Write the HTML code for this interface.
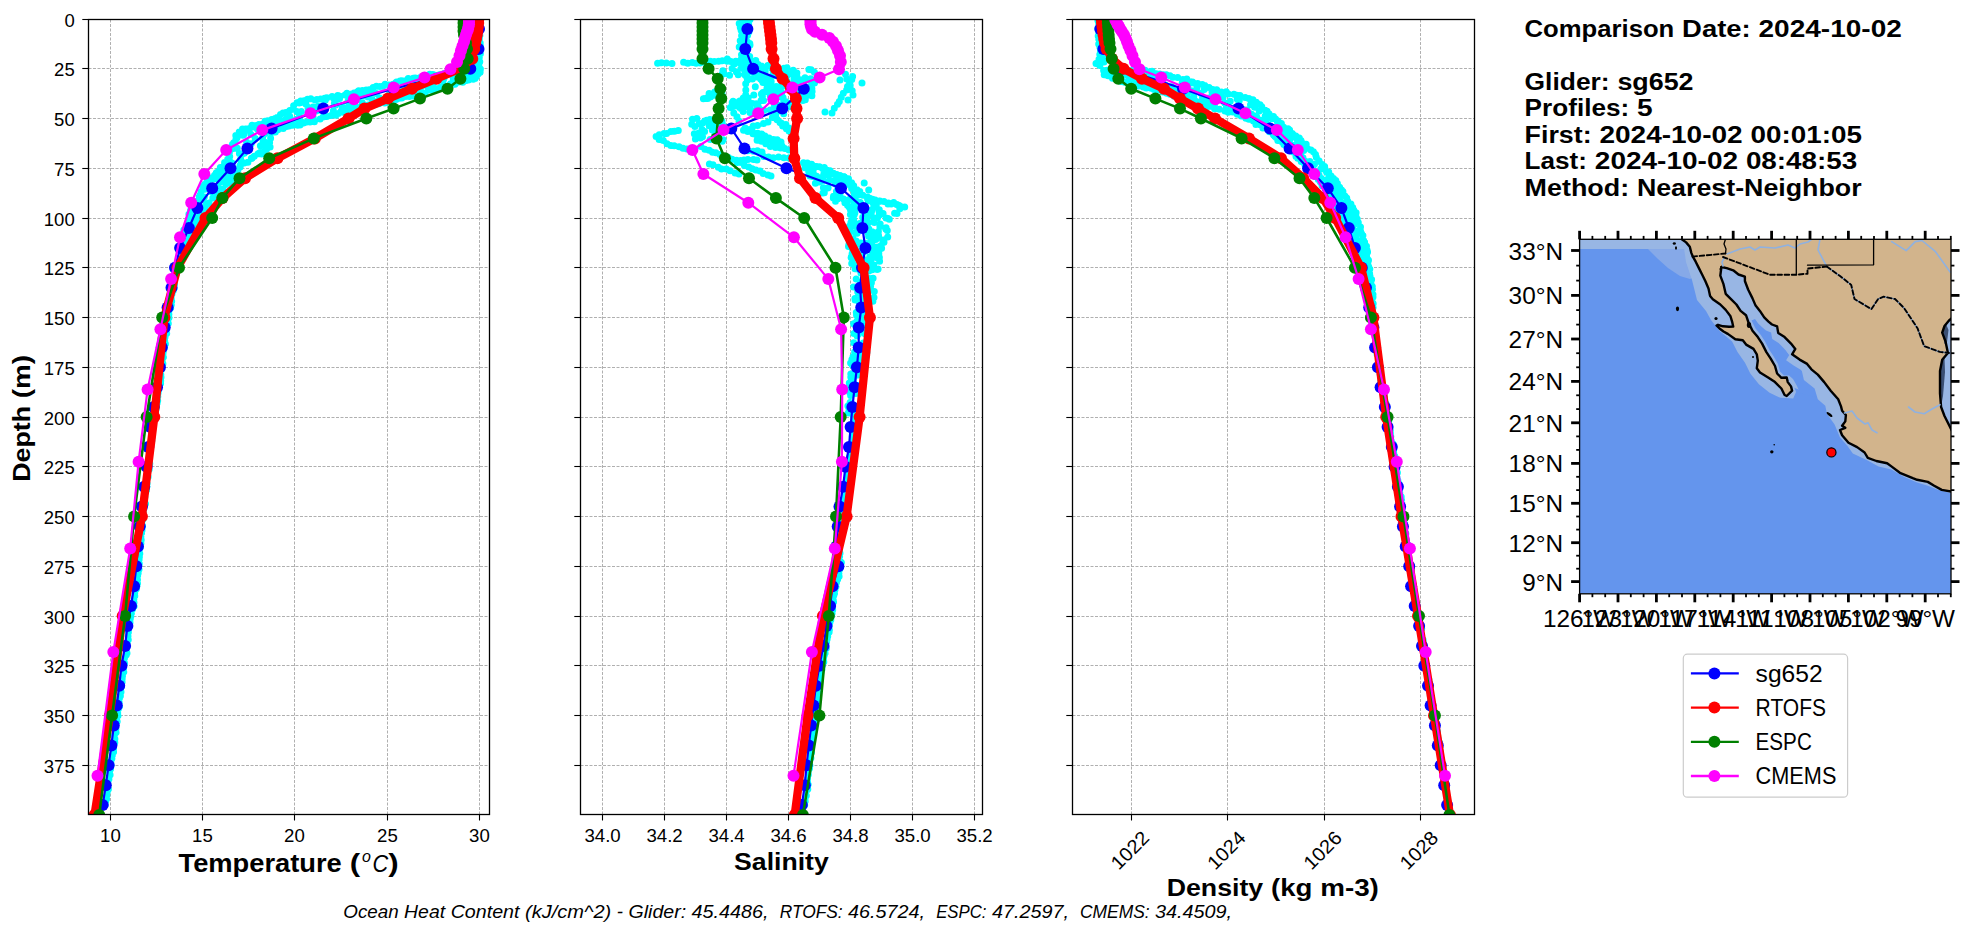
<!DOCTYPE html><html><head><meta charset="utf-8"><title>Glider comparison</title><style>html,body{margin:0;padding:0;background:#fff;overflow:hidden}svg{display:block}text{font-family:"Liberation Sans",sans-serif;fill:#000}</style></head><body>
<svg width="1978" height="934" viewBox="0 0 1978 934">
<rect width="1978" height="934" fill="#fff"/>
<defs>
<clipPath id="ax0"><rect x="88.5" y="19.5" width="401.0" height="795.0"/></clipPath>
<clipPath id="ax1"><rect x="580.5" y="19.5" width="402.0" height="795.0"/></clipPath>
<clipPath id="ax2"><rect x="1072.5" y="19.5" width="402.0" height="795.0"/></clipPath>
</defs>
<line x1="110.5" y1="19.5" x2="110.5" y2="814.5" stroke="#b0b0b0" stroke-width="1.0" stroke-dasharray="3.0,1.5"/>
<line x1="202.5" y1="19.5" x2="202.5" y2="814.5" stroke="#b0b0b0" stroke-width="1.0" stroke-dasharray="3.0,1.5"/>
<line x1="294.5" y1="19.5" x2="294.5" y2="814.5" stroke="#b0b0b0" stroke-width="1.0" stroke-dasharray="3.0,1.5"/>
<line x1="387.5" y1="19.5" x2="387.5" y2="814.5" stroke="#b0b0b0" stroke-width="1.0" stroke-dasharray="3.0,1.5"/>
<line x1="479.5" y1="19.5" x2="479.5" y2="814.5" stroke="#b0b0b0" stroke-width="1.0" stroke-dasharray="3.0,1.5"/>
<line x1="88.5" y1="68.5" x2="489.5" y2="68.5" stroke="#b0b0b0" stroke-width="1.0" stroke-dasharray="3.0,1.5"/>
<line x1="88.5" y1="118.5" x2="489.5" y2="118.5" stroke="#b0b0b0" stroke-width="1.0" stroke-dasharray="3.0,1.5"/>
<line x1="88.5" y1="168.5" x2="489.5" y2="168.5" stroke="#b0b0b0" stroke-width="1.0" stroke-dasharray="3.0,1.5"/>
<line x1="88.5" y1="218.5" x2="489.5" y2="218.5" stroke="#b0b0b0" stroke-width="1.0" stroke-dasharray="3.0,1.5"/>
<line x1="88.5" y1="267.5" x2="489.5" y2="267.5" stroke="#b0b0b0" stroke-width="1.0" stroke-dasharray="3.0,1.5"/>
<line x1="88.5" y1="317.5" x2="489.5" y2="317.5" stroke="#b0b0b0" stroke-width="1.0" stroke-dasharray="3.0,1.5"/>
<line x1="88.5" y1="367.5" x2="489.5" y2="367.5" stroke="#b0b0b0" stroke-width="1.0" stroke-dasharray="3.0,1.5"/>
<line x1="88.5" y1="417.5" x2="489.5" y2="417.5" stroke="#b0b0b0" stroke-width="1.0" stroke-dasharray="3.0,1.5"/>
<line x1="88.5" y1="466.5" x2="489.5" y2="466.5" stroke="#b0b0b0" stroke-width="1.0" stroke-dasharray="3.0,1.5"/>
<line x1="88.5" y1="516.5" x2="489.5" y2="516.5" stroke="#b0b0b0" stroke-width="1.0" stroke-dasharray="3.0,1.5"/>
<line x1="88.5" y1="566.5" x2="489.5" y2="566.5" stroke="#b0b0b0" stroke-width="1.0" stroke-dasharray="3.0,1.5"/>
<line x1="88.5" y1="616.5" x2="489.5" y2="616.5" stroke="#b0b0b0" stroke-width="1.0" stroke-dasharray="3.0,1.5"/>
<line x1="88.5" y1="665.5" x2="489.5" y2="665.5" stroke="#b0b0b0" stroke-width="1.0" stroke-dasharray="3.0,1.5"/>
<line x1="88.5" y1="715.5" x2="489.5" y2="715.5" stroke="#b0b0b0" stroke-width="1.0" stroke-dasharray="3.0,1.5"/>
<line x1="88.5" y1="765.5" x2="489.5" y2="765.5" stroke="#b0b0b0" stroke-width="1.0" stroke-dasharray="3.0,1.5"/>
<line x1="602.5" y1="19.5" x2="602.5" y2="814.5" stroke="#b0b0b0" stroke-width="1.0" stroke-dasharray="3.0,1.5"/>
<line x1="664.5" y1="19.5" x2="664.5" y2="814.5" stroke="#b0b0b0" stroke-width="1.0" stroke-dasharray="3.0,1.5"/>
<line x1="726.5" y1="19.5" x2="726.5" y2="814.5" stroke="#b0b0b0" stroke-width="1.0" stroke-dasharray="3.0,1.5"/>
<line x1="788.5" y1="19.5" x2="788.5" y2="814.5" stroke="#b0b0b0" stroke-width="1.0" stroke-dasharray="3.0,1.5"/>
<line x1="850.5" y1="19.5" x2="850.5" y2="814.5" stroke="#b0b0b0" stroke-width="1.0" stroke-dasharray="3.0,1.5"/>
<line x1="912.5" y1="19.5" x2="912.5" y2="814.5" stroke="#b0b0b0" stroke-width="1.0" stroke-dasharray="3.0,1.5"/>
<line x1="974.5" y1="19.5" x2="974.5" y2="814.5" stroke="#b0b0b0" stroke-width="1.0" stroke-dasharray="3.0,1.5"/>
<line x1="580.5" y1="68.5" x2="982.5" y2="68.5" stroke="#b0b0b0" stroke-width="1.0" stroke-dasharray="3.0,1.5"/>
<line x1="580.5" y1="118.5" x2="982.5" y2="118.5" stroke="#b0b0b0" stroke-width="1.0" stroke-dasharray="3.0,1.5"/>
<line x1="580.5" y1="168.5" x2="982.5" y2="168.5" stroke="#b0b0b0" stroke-width="1.0" stroke-dasharray="3.0,1.5"/>
<line x1="580.5" y1="218.5" x2="982.5" y2="218.5" stroke="#b0b0b0" stroke-width="1.0" stroke-dasharray="3.0,1.5"/>
<line x1="580.5" y1="267.5" x2="982.5" y2="267.5" stroke="#b0b0b0" stroke-width="1.0" stroke-dasharray="3.0,1.5"/>
<line x1="580.5" y1="317.5" x2="982.5" y2="317.5" stroke="#b0b0b0" stroke-width="1.0" stroke-dasharray="3.0,1.5"/>
<line x1="580.5" y1="367.5" x2="982.5" y2="367.5" stroke="#b0b0b0" stroke-width="1.0" stroke-dasharray="3.0,1.5"/>
<line x1="580.5" y1="417.5" x2="982.5" y2="417.5" stroke="#b0b0b0" stroke-width="1.0" stroke-dasharray="3.0,1.5"/>
<line x1="580.5" y1="466.5" x2="982.5" y2="466.5" stroke="#b0b0b0" stroke-width="1.0" stroke-dasharray="3.0,1.5"/>
<line x1="580.5" y1="516.5" x2="982.5" y2="516.5" stroke="#b0b0b0" stroke-width="1.0" stroke-dasharray="3.0,1.5"/>
<line x1="580.5" y1="566.5" x2="982.5" y2="566.5" stroke="#b0b0b0" stroke-width="1.0" stroke-dasharray="3.0,1.5"/>
<line x1="580.5" y1="616.5" x2="982.5" y2="616.5" stroke="#b0b0b0" stroke-width="1.0" stroke-dasharray="3.0,1.5"/>
<line x1="580.5" y1="665.5" x2="982.5" y2="665.5" stroke="#b0b0b0" stroke-width="1.0" stroke-dasharray="3.0,1.5"/>
<line x1="580.5" y1="715.5" x2="982.5" y2="715.5" stroke="#b0b0b0" stroke-width="1.0" stroke-dasharray="3.0,1.5"/>
<line x1="580.5" y1="765.5" x2="982.5" y2="765.5" stroke="#b0b0b0" stroke-width="1.0" stroke-dasharray="3.0,1.5"/>
<line x1="1131.5" y1="19.5" x2="1131.5" y2="814.5" stroke="#b0b0b0" stroke-width="1.0" stroke-dasharray="3.0,1.5"/>
<line x1="1227.5" y1="19.5" x2="1227.5" y2="814.5" stroke="#b0b0b0" stroke-width="1.0" stroke-dasharray="3.0,1.5"/>
<line x1="1324.5" y1="19.5" x2="1324.5" y2="814.5" stroke="#b0b0b0" stroke-width="1.0" stroke-dasharray="3.0,1.5"/>
<line x1="1420.5" y1="19.5" x2="1420.5" y2="814.5" stroke="#b0b0b0" stroke-width="1.0" stroke-dasharray="3.0,1.5"/>
<line x1="1072.5" y1="68.5" x2="1474.5" y2="68.5" stroke="#b0b0b0" stroke-width="1.0" stroke-dasharray="3.0,1.5"/>
<line x1="1072.5" y1="118.5" x2="1474.5" y2="118.5" stroke="#b0b0b0" stroke-width="1.0" stroke-dasharray="3.0,1.5"/>
<line x1="1072.5" y1="168.5" x2="1474.5" y2="168.5" stroke="#b0b0b0" stroke-width="1.0" stroke-dasharray="3.0,1.5"/>
<line x1="1072.5" y1="218.5" x2="1474.5" y2="218.5" stroke="#b0b0b0" stroke-width="1.0" stroke-dasharray="3.0,1.5"/>
<line x1="1072.5" y1="267.5" x2="1474.5" y2="267.5" stroke="#b0b0b0" stroke-width="1.0" stroke-dasharray="3.0,1.5"/>
<line x1="1072.5" y1="317.5" x2="1474.5" y2="317.5" stroke="#b0b0b0" stroke-width="1.0" stroke-dasharray="3.0,1.5"/>
<line x1="1072.5" y1="367.5" x2="1474.5" y2="367.5" stroke="#b0b0b0" stroke-width="1.0" stroke-dasharray="3.0,1.5"/>
<line x1="1072.5" y1="417.5" x2="1474.5" y2="417.5" stroke="#b0b0b0" stroke-width="1.0" stroke-dasharray="3.0,1.5"/>
<line x1="1072.5" y1="466.5" x2="1474.5" y2="466.5" stroke="#b0b0b0" stroke-width="1.0" stroke-dasharray="3.0,1.5"/>
<line x1="1072.5" y1="516.5" x2="1474.5" y2="516.5" stroke="#b0b0b0" stroke-width="1.0" stroke-dasharray="3.0,1.5"/>
<line x1="1072.5" y1="566.5" x2="1474.5" y2="566.5" stroke="#b0b0b0" stroke-width="1.0" stroke-dasharray="3.0,1.5"/>
<line x1="1072.5" y1="616.5" x2="1474.5" y2="616.5" stroke="#b0b0b0" stroke-width="1.0" stroke-dasharray="3.0,1.5"/>
<line x1="1072.5" y1="665.5" x2="1474.5" y2="665.5" stroke="#b0b0b0" stroke-width="1.0" stroke-dasharray="3.0,1.5"/>
<line x1="1072.5" y1="715.5" x2="1474.5" y2="715.5" stroke="#b0b0b0" stroke-width="1.0" stroke-dasharray="3.0,1.5"/>
<line x1="1072.5" y1="765.5" x2="1474.5" y2="765.5" stroke="#b0b0b0" stroke-width="1.0" stroke-dasharray="3.0,1.5"/>
<g clip-path="url(#ax0)">
<path d="M475.9 19.2h0M476.8 23.7h0M476.4 27.5h0M477.0 31.5h0M476.6 35.9h0M477.6 39.5h0M477.7 43.8h0M478.4 47.3h0M478.6 51.9h0M477.9 55.4h0M478.4 59.5h0M477.7 62.7h0M477.7 67.7h0M478.8 70.9h0M478.0 74.0h0" stroke="#00ffff" stroke-width="7.0" stroke-linecap="round" fill="none"/>
<path d="M478.7 20.7h0M480.2 24.2h0M479.1 26.9h0M479.6 31.9h0M479.9 35.4h0M479.4 38.8h0M480.2 43.0h0M480.4 45.8h0M480.6 49.5h0M480.4 53.8h0M479.3 57.5h0M479.8 61.7h0M478.9 64.1h0M480.4 68.9h0M479.5 72.0h0" stroke="#00ffff" stroke-width="7.0" stroke-linecap="round" fill="none"/>
<path d="M255.2 138.5h0M314.9 110.2h0M360.5 95.7h0M412.8 88.8h0M413.9 91.1h0M464.7 78.3h0M229.3 171.7h0M248.1 130.3h0M188.1 238.6h0M219.3 175.8h0M243.6 134.7h0M404.8 89.5h0M296.4 119.3h0M418.3 85.1h0M413.7 83.8h0M372.2 104.8h0M210.6 190.1h0M188.3 241.4h0M371.8 92.3h0M308.2 112.9h0M259.5 131.0h0M220.3 182.0h0M427.7 79.4h0M185.3 239.9h0M362.3 102.7h0M300.9 121.5h0M237.1 137.5h0M297.2 111.8h0M253.2 127.1h0M464.0 78.5h0M223.7 171.2h0M368.0 97.1h0M275.6 124.8h0M354.7 104.0h0M260.1 152.6h0M442.1 77.4h0M443.1 80.9h0M438.3 76.6h0M206.1 203.7h0M319.4 109.9h0M313.3 119.1h0M267.0 123.6h0M357.3 92.1h0M459.8 74.1h0M422.6 84.3h0M193.9 214.8h0M333.4 110.7h0M197.0 216.0h0M405.1 96.3h0M262.9 136.4h0M428.5 88.4h0M358.3 96.1h0M218.1 186.2h0M191.9 225.0h0M406.3 95.3h0M246.5 129.2h0M222.1 180.5h0M269.3 128.1h0M273.2 129.3h0M240.6 159.3h0M246.6 142.2h0M225.2 176.6h0M260.4 145.8h0M313.1 107.0h0M337.0 99.6h0M278.8 119.0h0M203.1 187.0h0M219.0 180.2h0M266.9 147.0h0M216.7 192.3h0M352.1 98.4h0M204.3 197.1h0M430.7 88.7h0M393.1 94.2h0M237.3 148.3h0M303.5 123.0h0M244.2 153.2h0M289.8 116.4h0M399.0 97.1h0M194.5 221.4h0M207.8 181.3h0M211.2 191.7h0M433.0 85.9h0M292.0 122.6h0M429.9 80.3h0M204.8 189.2h0M240.0 165.4h0M186.3 227.5h0M455.6 73.1h0M233.2 148.4h0M335.7 105.0h0M250.8 134.2h0M403.6 91.1h0M371.5 93.1h0M319.7 108.0h0M277.3 123.1h0M204.7 207.8h0M351.4 105.8h0M348.7 97.1h0M241.1 161.2h0M334.4 103.3h0M313.2 117.6h0M201.3 197.4h0M354.5 106.8h0M252.1 158.0h0M230.7 162.2h0M284.5 120.3h0M265.4 133.5h0M393.6 89.8h0M441.0 78.5h0M199.0 205.6h0M242.0 154.2h0M407.1 82.1h0M333.6 98.3h0M348.0 101.3h0M234.7 143.1h0M214.6 194.9h0M232.4 163.3h0M341.3 110.9h0M301.3 111.5h0M231.8 169.6h0M409.7 89.0h0M420.0 92.5h0M373.1 104.5h0M188.2 224.7h0M222.9 169.9h0M342.4 106.9h0M296.8 111.6h0M376.2 93.5h0M346.9 107.7h0M424.9 79.6h0M226.1 178.9h0M197.2 209.9h0M310.4 112.6h0M231.2 168.6h0M407.7 94.5h0M403.1 86.9h0M235.9 148.2h0M450.6 83.7h0M264.6 142.0h0M268.9 142.9h0M299.2 114.3h0M325.3 100.3h0M263.1 141.1h0M324.1 99.9h0M213.2 179.2h0M348.2 96.4h0M257.3 129.3h0M289.6 122.8h0M251.2 143.8h0M191.1 228.7h0M242.8 135.2h0M239.4 153.5h0M375.7 102.0h0M390.0 92.8h0M372.5 104.7h0M394.4 89.3h0M424.0 79.2h0M316.3 110.9h0M262.7 137.5h0M308.6 110.3h0M422.7 85.4h0M438.4 78.4h0M453.3 78.8h0M230.8 177.2h0M339.6 98.6h0M307.9 107.3h0M365.5 95.9h0M318.0 106.2h0M379.6 98.0h0M356.5 107.0h0M300.1 102.7h0M433.9 80.1h0M299.4 103.1h0M212.9 178.2h0M283.6 124.7h0M291.8 123.2h0M389.7 93.0h0M217.9 178.8h0M439.4 75.8h0M408.4 95.1h0M200.8 215.2h0M360.4 93.9h0M313.7 108.1h0M369.0 90.0h0M433.7 87.8h0M212.5 189.6h0M305.9 104.1h0M372.4 99.8h0M285.9 119.1h0M419.9 91.0h0M444.0 78.3h0M358.4 98.7h0" stroke="#00ffff" stroke-width="7.0" stroke-linecap="round" fill="none"/>
<path d="M477.0 60.5h0M477.7 62.4h0M478.7 65.2h0M477.8 70.6h0M477.8 72.7h0M476.4 76.4h0M472.5 76.6h0M469.7 74.7h0M465.9 75.6h0M461.4 74.5h0M457.8 72.9h0M454.4 73.4h0M452.0 72.7h0M448.5 74.2h0M444.1 73.5h0M441.5 74.5h0M439.4 74.8h0M435.0 75.2h0M432.6 74.6h0M429.7 74.2h0M425.0 76.5h0M422.5 77.8h0M419.7 77.7h0M415.3 77.9h0M413.2 78.2h0M408.2 78.4h0M404.5 81.1h0M401.8 80.7h0M400.0 81.1h0M396.5 82.0h0M393.1 84.3h0M388.9 85.0h0M385.1 84.3h0M382.8 86.2h0M379.8 86.4h0M376.4 86.2h0M373.1 87.4h0M369.1 89.9h0M366.2 89.9h0M362.5 90.4h0M358.7 90.7h0M354.0 93.0h0M351.5 94.0h0M346.9 93.3h0M345.0 95.0h0M340.1 96.3h0M337.7 95.6h0M333.7 96.9h0M332.1 96.6h0M326.9 97.7h0M324.6 98.2h0M320.6 99.0h0M316.9 99.4h0M315.1 100.1h0M310.8 98.7h0M307.5 99.2h0M304.0 100.7h0M300.7 101.0h0M297.1 102.8h0M293.6 105.7h0M293.2 108.9h0M289.8 110.5h0M285.9 112.4h0M283.0 112.9h0M280.5 114.5h0M277.1 117.4h0M275.1 118.6h0M271.7 119.6h0M267.8 120.7h0M265.0 121.2h0M262.2 124.2h0M258.9 124.6h0M256.2 125.5h0M252.0 125.3h0M249.5 128.4h0M245.5 129.0h0M242.5 129.0h0M239.2 131.9h0M235.8 135.4h0M236.0 139.0h0M233.7 142.8h0M232.5 144.3h0M230.6 149.6h0M229.5 152.1h0M229.7 156.4h0M227.7 159.3h0M224.6 162.4h0M223.8 165.9h0M220.3 167.6h0M218.2 171.4h0M216.3 172.8h0M214.6 175.3h0M210.3 177.9h0M207.9 179.7h0M206.6 182.6h0M204.8 184.4h0M202.8 186.4h0M201.2 191.5h0M200.3 194.7h0M199.3 196.7h0M197.6 201.0h0M196.7 202.9h0M193.2 206.5h0M191.7 207.6h0M190.5 210.6h0M188.9 214.2h0M188.8 218.6h0M188.5 221.0h0M188.1 223.5h0M186.1 228.5h0M183.8 230.1h0M183.2 233.7h0M183.0 238.2h0M183.2 241.2h0M181.0 245.0h0" stroke="#00ffff" stroke-width="7.0" stroke-linecap="round" fill="none"/>
<path d="M480.1 72.3h0M475.0 78.4h0M473.2 79.3h0M468.5 80.0h0M466.3 80.6h0M462.8 82.3h0M457.6 82.2h0M454.9 84.3h0M451.3 84.4h0M447.4 86.5h0M443.9 86.0h0M440.6 87.3h0M437.4 88.7h0M432.7 90.6h0M429.1 90.1h0M425.2 93.1h0M421.3 92.0h0M418.5 94.3h0M413.4 96.1h0M409.3 96.5h0M405.8 96.2h0M401.8 97.9h0M399.4 98.2h0M396.0 99.6h0M391.2 100.7h0M387.6 101.9h0M384.8 103.0h0M378.9 103.7h0M375.4 104.5h0M371.3 104.1h0M368.2 105.0h0M365.0 106.9h0M361.1 108.7h0M356.0 108.6h0M352.4 109.0h0M349.4 111.2h0M346.5 111.6h0M343.0 112.3h0M338.3 113.5h0M335.9 115.2h0M331.0 115.6h0M326.8 116.6h0M323.0 117.1h0M320.1 118.9h0M314.4 121.7h0M310.0 122.0h0M306.8 121.9h0M303.1 122.7h0M300.0 125.0h0M297.8 125.2h0M292.7 125.2h0M289.0 125.9h0M286.7 126.6h0M283.2 128.5h0M277.8 129.8h0M275.4 132.0h0M271.4 132.5h0M270.6 138.2h0M269.6 142.8h0M270.1 146.9h0M266.7 149.1h0M264.4 151.1h0M261.7 153.9h0M258.1 153.7h0M254.3 156.2h0M251.3 158.5h0M247.9 162.2h0M244.2 163.1h0M240.1 167.1h0M238.1 169.5h0M234.4 174.3h0M233.6 177.2h0M231.8 182.0h0M227.5 183.2h0M225.9 184.6h0M222.9 189.1h0M219.6 190.8h0M217.9 193.7h0M215.7 196.4h0M212.8 198.0h0M209.0 202.9h0M207.2 204.4h0M204.5 208.6h0M202.2 211.5h0M200.3 216.0h0M196.9 220.8h0M195.7 222.7h0M196.2 228.3h0M192.8 232.2h0M192.9 234.3h0M191.1 237.8h0M189.7 242.2h0M186.9 247.3h0M186.0 250.0h0" stroke="#00ffff" stroke-width="7.0" stroke-linecap="round" fill="none"/>
<path d="M191.3 228.2h0M189.8 231.9h0M189.0 235.3h0M187.1 238.5h0M185.5 242.0h0M184.2 244.0h0M182.7 248.2h0M181.4 251.6h0M181.2 254.9h0M180.2 257.8h0M179.3 261.1h0M178.4 264.4h0M177.1 267.5h0M177.0 270.6h0M176.4 273.7h0M175.3 277.3h0M174.4 280.3h0M174.6 284.5h0M174.2 288.3h0M173.2 291.1h0M172.1 293.9h0M171.3 298.3h0M171.8 301.3h0M171.4 304.7h0M170.8 308.1h0M169.1 310.7h0M169.0 314.3h0M169.1 317.8h0M168.0 321.1h0M168.4 323.5h0M166.6 327.2h0M166.2 331.3h0M166.8 333.6h0M165.1 337.3h0M164.8 340.9h0M165.5 344.0h0M164.4 347.6h0M163.4 351.5h0M163.1 353.7h0M163.5 357.3h0M162.3 360.3h0M163.0 363.7h0M161.7 367.7h0M161.3 370.1h0M160.9 374.7h0M161.1 377.2h0M160.8 380.7h0M160.7 383.4h0M159.2 387.2h0M158.6 390.8h0M158.2 393.1h0M157.9 396.5h0M157.8 400.8h0M157.2 403.3h0M156.3 406.6h0M156.1 409.6h0M155.7 414.5h0M155.2 417.4h0M154.3 420.3h0M153.7 423.7h0M152.8 427.1h0M152.0 429.6h0M151.9 434.4h0M152.1 437.6h0M151.9 440.7h0M151.2 443.8h0M150.0 446.2h0M149.7 450.1h0M149.5 453.0h0M149.3 457.5h0M149.3 459.7h0M149.9 463.6h0M148.8 466.4h0M149.3 469.6h0M147.6 473.3h0M148.2 477.0h0M146.8 480.0h0M147.2 483.7h0M147.0 486.6h0M146.7 490.0h0M145.3 492.8h0M144.9 496.9h0M144.4 499.5h0M145.6 503.8h0M144.4 505.9h0M143.8 509.5h0M143.3 513.2h0M143.9 515.9h0M143.1 519.3h0M142.0 523.2h0M142.7 526.1h0M142.1 530.5h0M141.7 532.9h0M141.0 536.8h0M141.3 540.0h0M141.0 543.3h0M140.4 547.2h0M139.5 549.0h0M139.9 553.7h0M139.5 557.0h0M139.2 559.7h0M139.4 563.7h0M138.8 566.2h0M139.1 569.5h0M138.3 573.0h0M137.8 575.5h0M137.6 579.8h0M137.6 583.5h0M136.9 586.3h0M136.5 589.1h0M134.8 593.1h0M134.9 596.0h0M134.0 599.0h0M134.1 602.6h0M134.2 606.2h0M132.6 609.2h0M131.5 613.2h0M130.9 616.5h0M130.4 618.8h0M130.1 622.4h0M129.3 625.9h0M128.8 628.6h0M128.5 632.3h0M128.1 636.2h0M128.4 639.8h0M127.2 642.8h0M127.0 646.7h0M126.5 648.8h0M127.1 653.2h0M126.3 655.1h0M124.5 658.4h0M124.6 663.2h0M123.4 665.5h0M123.6 669.2h0M123.9 672.1h0M122.6 676.1h0M122.3 678.8h0M122.2 681.9h0M121.5 686.5h0M120.7 688.6h0M121.1 692.0h0M120.5 696.0h0M119.5 698.5h0M119.3 702.6h0M119.5 706.4h0M118.5 708.9h0M117.8 713.0h0M118.1 715.8h0M116.8 719.4h0M117.3 721.6h0M115.7 726.1h0M116.0 729.2h0M116.2 732.6h0M114.6 735.0h0M115.0 739.0h0M114.9 742.5h0M113.6 745.6h0M113.6 749.5h0M113.7 752.1h0M112.4 755.6h0M112.0 758.6h0M111.1 761.5h0M111.2 765.2h0M110.7 769.0h0M109.6 771.6h0M110.2 775.0h0M109.0 779.2h0M108.0 781.7h0M107.8 786.0h0M108.5 789.2h0M107.3 792.0h0M106.9 795.5h0M106.7 799.1h0M105.9 801.1h0M105.2 805.1h0" stroke="#00ffff" stroke-width="6.8" stroke-linecap="round" fill="none"/>
<polyline points="479.0,29.0 478.5,48.9 470.3,68.8 393.6,88.7 323.3,108.6 271.6,128.5 247.4,148.4 230.5,168.3 212.2,188.2 197.4,208.1 188.9,228.0 180.1,247.9 175.0,267.8 171.5,287.7 167.6,307.6 164.7,327.5 161.8,347.4 159.9,367.3 157.0,387.2 153.8,407.1 150.5,427.0 148.3,446.9 146.6,466.8 144.2,486.7 141.9,506.6 139.7,526.5 137.9,546.4 136.3,566.3 134.1,586.2 131.0,606.1 127.4,626.0 125.1,645.9 121.5,665.8 119.2,685.7 116.8,705.6 113.8,725.5 111.4,745.4 108.6,765.3 105.8,785.2 102.7,805.1" fill="none" stroke="#0000ff" stroke-width="2.20" stroke-linejoin="round" stroke-linecap="round"/>
<circle cx="479.0" cy="29.0" r="6.00" fill="#0000ff"/>
<circle cx="478.5" cy="48.9" r="6.00" fill="#0000ff"/>
<circle cx="470.3" cy="68.8" r="6.00" fill="#0000ff"/>
<circle cx="393.6" cy="88.7" r="6.00" fill="#0000ff"/>
<circle cx="323.3" cy="108.6" r="6.00" fill="#0000ff"/>
<circle cx="271.6" cy="128.5" r="6.00" fill="#0000ff"/>
<circle cx="247.4" cy="148.4" r="6.00" fill="#0000ff"/>
<circle cx="230.5" cy="168.3" r="6.00" fill="#0000ff"/>
<circle cx="212.2" cy="188.2" r="6.00" fill="#0000ff"/>
<circle cx="197.4" cy="208.1" r="6.00" fill="#0000ff"/>
<circle cx="188.9" cy="228.0" r="6.00" fill="#0000ff"/>
<circle cx="180.1" cy="247.9" r="6.00" fill="#0000ff"/>
<circle cx="175.0" cy="267.8" r="6.00" fill="#0000ff"/>
<circle cx="171.5" cy="287.7" r="6.00" fill="#0000ff"/>
<circle cx="167.6" cy="307.6" r="6.00" fill="#0000ff"/>
<circle cx="164.7" cy="327.5" r="6.00" fill="#0000ff"/>
<circle cx="161.8" cy="347.4" r="6.00" fill="#0000ff"/>
<circle cx="159.9" cy="367.3" r="6.00" fill="#0000ff"/>
<circle cx="157.0" cy="387.2" r="6.00" fill="#0000ff"/>
<circle cx="153.8" cy="407.1" r="6.00" fill="#0000ff"/>
<circle cx="150.5" cy="427.0" r="6.00" fill="#0000ff"/>
<circle cx="148.3" cy="446.9" r="6.00" fill="#0000ff"/>
<circle cx="146.6" cy="466.8" r="6.00" fill="#0000ff"/>
<circle cx="144.2" cy="486.7" r="6.00" fill="#0000ff"/>
<circle cx="141.9" cy="506.6" r="6.00" fill="#0000ff"/>
<circle cx="139.7" cy="526.5" r="6.00" fill="#0000ff"/>
<circle cx="137.9" cy="546.4" r="6.00" fill="#0000ff"/>
<circle cx="136.3" cy="566.3" r="6.00" fill="#0000ff"/>
<circle cx="134.1" cy="586.2" r="6.00" fill="#0000ff"/>
<circle cx="131.0" cy="606.1" r="6.00" fill="#0000ff"/>
<circle cx="127.4" cy="626.0" r="6.00" fill="#0000ff"/>
<circle cx="125.1" cy="645.9" r="6.00" fill="#0000ff"/>
<circle cx="121.5" cy="665.8" r="6.00" fill="#0000ff"/>
<circle cx="119.2" cy="685.7" r="6.00" fill="#0000ff"/>
<circle cx="116.8" cy="705.6" r="6.00" fill="#0000ff"/>
<circle cx="113.8" cy="725.5" r="6.00" fill="#0000ff"/>
<circle cx="111.4" cy="745.4" r="6.00" fill="#0000ff"/>
<circle cx="108.6" cy="765.3" r="6.00" fill="#0000ff"/>
<circle cx="105.8" cy="785.2" r="6.00" fill="#0000ff"/>
<circle cx="102.7" cy="805.1" r="6.00" fill="#0000ff"/>
<polyline points="478.4,19.0 478.2,23.0 477.8,27.0 477.3,30.9 476.8,34.9 476.0,38.9 475.2,42.9 474.2,48.9 472.3,58.8 460.0,68.8 436.5,78.7 412.0,88.7 388.0,98.6 364.5,108.6 348.5,118.5 314.9,138.4 277.4,158.3 245.0,178.2 222.5,198.1 205.5,218.0 177.5,267.8 164.4,317.5 154.3,417.0 141.9,516.5 122.7,616.1 109.8,715.6 94.5,815.1" fill="none" stroke="#ff0000" stroke-width="8.30" stroke-linejoin="round" stroke-linecap="round"/>
<circle cx="478.4" cy="19.0" r="6.00" fill="#ff0000"/>
<circle cx="478.2" cy="23.0" r="6.00" fill="#ff0000"/>
<circle cx="477.8" cy="27.0" r="6.00" fill="#ff0000"/>
<circle cx="477.3" cy="30.9" r="6.00" fill="#ff0000"/>
<circle cx="476.8" cy="34.9" r="6.00" fill="#ff0000"/>
<circle cx="476.0" cy="38.9" r="6.00" fill="#ff0000"/>
<circle cx="475.2" cy="42.9" r="6.00" fill="#ff0000"/>
<circle cx="474.2" cy="48.9" r="6.00" fill="#ff0000"/>
<circle cx="472.3" cy="58.8" r="6.00" fill="#ff0000"/>
<circle cx="460.0" cy="68.8" r="6.00" fill="#ff0000"/>
<circle cx="436.5" cy="78.7" r="6.00" fill="#ff0000"/>
<circle cx="412.0" cy="88.7" r="6.00" fill="#ff0000"/>
<circle cx="388.0" cy="98.6" r="6.00" fill="#ff0000"/>
<circle cx="364.5" cy="108.6" r="6.00" fill="#ff0000"/>
<circle cx="348.5" cy="118.5" r="6.00" fill="#ff0000"/>
<circle cx="314.9" cy="138.4" r="6.00" fill="#ff0000"/>
<circle cx="277.4" cy="158.3" r="6.00" fill="#ff0000"/>
<circle cx="245.0" cy="178.2" r="6.00" fill="#ff0000"/>
<circle cx="222.5" cy="198.1" r="6.00" fill="#ff0000"/>
<circle cx="205.5" cy="218.0" r="6.00" fill="#ff0000"/>
<circle cx="177.5" cy="267.8" r="6.00" fill="#ff0000"/>
<circle cx="164.4" cy="317.5" r="6.00" fill="#ff0000"/>
<circle cx="154.3" cy="417.0" r="6.00" fill="#ff0000"/>
<circle cx="141.9" cy="516.5" r="6.00" fill="#ff0000"/>
<circle cx="122.7" cy="616.1" r="6.00" fill="#ff0000"/>
<circle cx="109.8" cy="715.6" r="6.00" fill="#ff0000"/>
<circle cx="94.5" cy="815.1" r="6.00" fill="#ff0000"/>
<polyline points="463.5,19.0 463.5,23.0 463.5,27.0 463.5,30.9 464.0,34.9 465.0,38.9 466.0,42.9 467.0,48.9 467.7,58.8 464.2,68.8 460.4,78.7 447.5,88.7 420.0,98.6 393.6,108.6 366.3,118.5 313.8,138.4 269.2,158.3 239.5,178.2 222.4,198.1 212.2,218.0 179.0,267.8 162.2,317.5 146.6,417.0 134.1,516.5 125.1,616.1 112.1,715.6 99.2,815.1" fill="none" stroke="#008000" stroke-width="2.60" stroke-linejoin="round" stroke-linecap="round"/>
<circle cx="463.5" cy="19.0" r="6.00" fill="#008000"/>
<circle cx="463.5" cy="23.0" r="6.00" fill="#008000"/>
<circle cx="463.5" cy="27.0" r="6.00" fill="#008000"/>
<circle cx="463.5" cy="30.9" r="6.00" fill="#008000"/>
<circle cx="464.0" cy="34.9" r="6.00" fill="#008000"/>
<circle cx="465.0" cy="38.9" r="6.00" fill="#008000"/>
<circle cx="466.0" cy="42.9" r="6.00" fill="#008000"/>
<circle cx="467.0" cy="48.9" r="6.00" fill="#008000"/>
<circle cx="467.7" cy="58.8" r="6.00" fill="#008000"/>
<circle cx="464.2" cy="68.8" r="6.00" fill="#008000"/>
<circle cx="460.4" cy="78.7" r="6.00" fill="#008000"/>
<circle cx="447.5" cy="88.7" r="6.00" fill="#008000"/>
<circle cx="420.0" cy="98.6" r="6.00" fill="#008000"/>
<circle cx="393.6" cy="108.6" r="6.00" fill="#008000"/>
<circle cx="366.3" cy="118.5" r="6.00" fill="#008000"/>
<circle cx="313.8" cy="138.4" r="6.00" fill="#008000"/>
<circle cx="269.2" cy="158.3" r="6.00" fill="#008000"/>
<circle cx="239.5" cy="178.2" r="6.00" fill="#008000"/>
<circle cx="222.4" cy="198.1" r="6.00" fill="#008000"/>
<circle cx="212.2" cy="218.0" r="6.00" fill="#008000"/>
<circle cx="179.0" cy="267.8" r="6.00" fill="#008000"/>
<circle cx="162.2" cy="317.5" r="6.00" fill="#008000"/>
<circle cx="146.6" cy="417.0" r="6.00" fill="#008000"/>
<circle cx="134.1" cy="516.5" r="6.00" fill="#008000"/>
<circle cx="125.1" cy="616.1" r="6.00" fill="#008000"/>
<circle cx="112.1" cy="715.6" r="6.00" fill="#008000"/>
<circle cx="99.2" cy="815.1" r="6.00" fill="#008000"/>
<polyline points="469.0,20.0 469.0,22.0 469.0,24.2 468.5,26.6 468.0,29.2 467.0,31.7 466.0,34.7 465.0,38.1 464.0,41.7 462.5,45.9 461.0,50.4 459.5,55.8 457.0,62.0 450.5,69.2 424.5,77.5 393.6,87.5 353.9,99.2 310.6,113.3 262.3,130.1 226.2,150.0 204.3,174.0 191.2,202.7 180.0,237.3 171.1,279.1 160.4,329.3 147.6,389.4 138.6,461.8 130.2,548.4 113.3,652.1 97.5,775.7" fill="none" stroke="#ff00ff" stroke-width="2.20" stroke-linejoin="round" stroke-linecap="round"/>
<circle cx="469.0" cy="20.0" r="6.00" fill="#ff00ff"/>
<circle cx="469.0" cy="22.0" r="6.00" fill="#ff00ff"/>
<circle cx="469.0" cy="24.2" r="6.00" fill="#ff00ff"/>
<circle cx="468.5" cy="26.6" r="6.00" fill="#ff00ff"/>
<circle cx="468.0" cy="29.2" r="6.00" fill="#ff00ff"/>
<circle cx="467.0" cy="31.7" r="6.00" fill="#ff00ff"/>
<circle cx="466.0" cy="34.7" r="6.00" fill="#ff00ff"/>
<circle cx="465.0" cy="38.1" r="6.00" fill="#ff00ff"/>
<circle cx="464.0" cy="41.7" r="6.00" fill="#ff00ff"/>
<circle cx="462.5" cy="45.9" r="6.00" fill="#ff00ff"/>
<circle cx="461.0" cy="50.4" r="6.00" fill="#ff00ff"/>
<circle cx="459.5" cy="55.8" r="6.00" fill="#ff00ff"/>
<circle cx="457.0" cy="62.0" r="6.00" fill="#ff00ff"/>
<circle cx="450.5" cy="69.2" r="6.00" fill="#ff00ff"/>
<circle cx="424.5" cy="77.5" r="6.00" fill="#ff00ff"/>
<circle cx="393.6" cy="87.5" r="6.00" fill="#ff00ff"/>
<circle cx="353.9" cy="99.2" r="6.00" fill="#ff00ff"/>
<circle cx="310.6" cy="113.3" r="6.00" fill="#ff00ff"/>
<circle cx="262.3" cy="130.1" r="6.00" fill="#ff00ff"/>
<circle cx="226.2" cy="150.0" r="6.00" fill="#ff00ff"/>
<circle cx="204.3" cy="174.0" r="6.00" fill="#ff00ff"/>
<circle cx="191.2" cy="202.7" r="6.00" fill="#ff00ff"/>
<circle cx="180.0" cy="237.3" r="6.00" fill="#ff00ff"/>
<circle cx="171.1" cy="279.1" r="6.00" fill="#ff00ff"/>
<circle cx="160.4" cy="329.3" r="6.00" fill="#ff00ff"/>
<circle cx="147.6" cy="389.4" r="6.00" fill="#ff00ff"/>
<circle cx="138.6" cy="461.8" r="6.00" fill="#ff00ff"/>
<circle cx="130.2" cy="548.4" r="6.00" fill="#ff00ff"/>
<circle cx="113.3" cy="652.1" r="6.00" fill="#ff00ff"/>
<circle cx="97.5" cy="775.7" r="6.00" fill="#ff00ff"/>
</g>
<g clip-path="url(#ax1)">
<path d="M747.6 35.3h0M745.2 48.4h0M750.0 45.1h0M746.5 57.9h0M739.2 47.0h0M740.2 40.7h0M742.1 33.2h0M749.0 31.7h0M749.8 43.5h0M749.8 43.6h0M746.3 40.6h0M750.0 19.4h0M740.3 27.5h0M749.7 56.6h0M741.1 30.2h0M744.6 27.9h0M741.5 26.2h0M748.7 24.4h0M746.2 52.5h0M741.6 35.7h0M739.2 23.6h0M744.2 43.1h0M741.5 54.8h0M745.9 57.9h0M744.9 42.0h0M747.1 44.0h0M746.0 43.0h0M742.1 47.4h0M748.0 42.6h0M743.2 33.0h0M742.3 20.6h0M745.6 53.0h0M745.5 57.2h0M745.9 20.3h0M746.3 20.0h0M743.2 57.6h0" stroke="#00ffff" stroke-width="7.0" stroke-linecap="round" fill="none"/>
<path d="M657.6 63.3h0M661.5 62.8h0M666.4 63.1h0M672.0 63.5h0" stroke="#00ffff" stroke-width="7.0" stroke-linecap="round" fill="none"/>
<path d="M683.6 62.2h0M687.8 63.3h0M692.3 62.5h0M696.2 63.2h0M700.0 63.0h0" stroke="#00ffff" stroke-width="7.0" stroke-linecap="round" fill="none"/>
<path d="M705.4 62.4h0M710.4 61.3h0M714.3 61.5h0M718.6 61.3h0M722.3 60.8h0M727.2 61.2h0M730.9 61.6h0M735.8 61.2h0M740.4 60.6h0M743.4 61.6h0M748.0 61.0h0" stroke="#00ffff" stroke-width="7.0" stroke-linecap="round" fill="none"/>
<path d="M761.1 67.5h0M805.0 77.7h0M794.1 81.0h0M773.2 75.6h0M802.2 79.8h0M797.0 77.1h0M763.0 82.6h0M738.9 104.2h0M794.0 78.4h0M808.6 79.7h0M752.3 65.4h0M758.3 64.5h0M797.6 81.6h0M811.2 87.5h0M767.7 86.5h0M806.5 88.2h0M760.6 75.8h0M769.7 93.0h0M763.9 110.3h0M753.8 94.9h0M743.6 61.5h0M776.4 105.9h0M793.2 70.2h0M744.7 104.7h0M774.5 105.8h0M770.0 83.2h0M811.1 69.8h0M783.9 68.3h0M765.0 79.4h0M739.3 101.3h0M763.6 100.4h0M746.6 65.0h0M738.2 74.7h0M774.9 64.5h0M811.5 85.6h0M746.1 60.2h0M777.8 104.9h0M803.4 94.3h0M759.4 115.4h0M738.8 106.2h0M783.0 97.5h0M767.3 81.9h0M795.9 100.3h0M763.6 73.5h0M759.0 115.6h0M749.9 108.3h0M755.8 60.6h0M740.4 105.5h0M783.1 98.1h0M773.1 72.9h0M794.0 82.9h0M786.3 73.8h0M780.8 70.8h0M760.9 76.0h0M787.8 104.6h0M784.7 69.7h0M761.3 79.4h0M741.1 101.7h0M750.9 71.9h0M793.6 72.6h0M781.7 92.6h0M808.9 69.5h0M733.1 101.2h0M756.3 103.8h0M750.4 64.2h0M739.6 62.7h0M744.6 74.2h0M796.5 98.5h0M743.3 98.0h0M757.4 113.0h0M774.4 68.4h0M791.8 102.7h0M816.5 79.6h0M799.2 86.7h0M756.4 66.6h0M762.0 80.4h0M783.7 113.7h0M733.8 105.3h0M797.4 99.0h0M797.8 92.0h0M800.6 92.5h0M814.9 79.9h0M777.7 73.6h0M750.2 105.2h0M745.6 69.4h0M751.1 70.0h0M743.7 107.8h0M803.2 81.8h0M759.8 109.2h0M748.2 98.0h0M812.1 91.4h0M745.8 90.1h0M776.3 86.4h0M741.8 60.2h0M787.0 75.3h0M751.0 61.8h0M775.9 70.3h0M758.1 77.3h0M745.7 83.7h0M770.6 77.6h0M739.7 101.1h0M740.9 68.3h0M778.0 87.1h0M727.3 59.0h0M722.4 74.3h0M750.0 112.4h0M762.9 92.4h0M739.5 107.5h0M746.7 101.4h0M764.8 77.4h0M811.9 95.7h0M729.6 75.3h0M782.6 71.2h0M761.2 66.0h0M760.6 78.9h0M803.2 97.3h0M761.1 100.4h0M741.5 63.3h0M747.4 80.1h0M786.9 81.0h0M743.1 111.5h0M786.5 68.7h0M762.4 96.3h0M751.5 63.6h0M794.6 99.7h0M803.3 96.9h0M795.5 95.4h0M759.9 73.8h0M754.3 60.9h0M756.0 109.9h0M782.5 83.2h0M775.4 68.2h0M784.3 103.8h0M775.6 115.7h0M745.7 95.1h0M771.7 68.2h0M734.2 64.0h0M778.7 90.9h0M778.1 97.0h0M742.2 59.6h0M749.1 102.4h0M765.2 71.5h0M791.3 73.7h0M774.5 91.2h0M776.9 110.7h0M767.8 65.5h0M810.6 78.8h0M780.8 74.6h0M733.3 106.5h0M814.4 72.2h0M732.1 68.6h0M747.6 106.7h0M796.9 73.0h0M722.3 73.9h0M736.4 72.1h0M763.2 110.5h0M799.4 86.3h0M767.0 87.9h0M814.5 83.0h0M763.0 68.1h0M786.1 103.6h0M758.1 106.1h0M741.5 59.0h0M785.9 101.7h0M776.4 89.7h0M775.3 108.2h0M723.9 73.7h0M771.2 81.6h0M787.0 67.8h0M780.1 87.5h0M796.4 95.3h0M787.1 75.3h0M808.9 79.5h0M780.6 78.0h0M802.9 100.6h0M776.7 112.1h0M808.7 79.9h0M747.0 77.4h0M745.3 75.3h0M732.2 102.6h0M757.4 107.9h0M806.4 95.7h0M765.6 91.5h0M796.2 92.4h0M740.9 108.6h0M770.2 95.7h0M781.4 85.7h0M783.2 86.1h0M752.5 103.4h0M752.4 78.9h0M811.7 90.9h0M753.6 72.6h0M722.9 70.8h0M741.0 101.5h0M813.1 81.0h0M728.0 60.2h0M805.3 99.8h0M770.2 77.4h0M755.3 86.8h0M811.9 88.7h0M771.2 86.6h0M770.1 109.9h0M783.7 101.0h0M789.1 106.8h0M761.4 93.9h0" stroke="#00ffff" stroke-width="7.0" stroke-linecap="round" fill="none"/>
<path d="M852.6 76.6h0M851.8 79.5h0M849.7 83.7h0M847.5 86.6h0M846.6 90.0h0M843.3 93.3h0M841.3 97.3h0M839.3 101.6h0M837.5 104.2h0M834.3 108.3h0M832.0 113.0h0" stroke="#00ffff" stroke-width="7.0" stroke-linecap="round" fill="none"/>
<path d="M845.5 74.3h0M846.8 78.9h0M849.5 81.3h0M850.2 85.6h0M852.2 90.7h0M853.0 95.0h0" stroke="#00ffff" stroke-width="7.0" stroke-linecap="round" fill="none"/>
<path d="M862.0 83.0h0" stroke="#00ffff" stroke-width="7.0" stroke-linecap="round" fill="none"/>
<path d="M825.0 112.0h0" stroke="#00ffff" stroke-width="7.0" stroke-linecap="round" fill="none"/>
<path d="M848.0 100.0h0" stroke="#00ffff" stroke-width="7.0" stroke-linecap="round" fill="none"/>
<path d="M840.0 80.0h0" stroke="#00ffff" stroke-width="7.0" stroke-linecap="round" fill="none"/>
<path d="M678.3 130.4h0M674.5 131.3h0M670.9 131.4h0M666.6 133.4h0M664.0 133.5h0M659.2 134.7h0M656.1 136.6h0M659.1 139.4h0M663.3 140.6h0M667.0 143.8h0M670.8 145.6h0M674.2 145.7h0M679.1 146.8h0M683.0 148.3h0M687.0 149.0h0" stroke="#00ffff" stroke-width="7.0" stroke-linecap="round" fill="none"/>
<path d="M706.6 120.3h0M709.9 119.4h0M702.5 136.8h0M699.0 123.7h0M696.8 118.5h0M710.8 122.6h0M716.3 119.7h0M694.3 133.7h0M712.2 125.1h0M695.4 139.1h0M712.3 129.9h0M694.9 126.4h0M712.2 121.7h0M710.1 139.6h0M704.6 131.5h0M704.8 121.0h0M709.7 120.1h0M722.2 141.2h0M723.1 139.8h0M698.9 133.1h0M716.9 128.9h0M715.1 133.8h0M692.5 119.2h0M722.5 140.6h0M715.9 131.1h0M718.7 140.8h0M717.1 135.0h0M691.7 124.3h0M702.0 129.4h0M700.5 138.0h0M725.8 127.8h0M718.9 125.8h0M718.2 124.5h0M702.6 122.9h0M709.2 125.7h0M722.0 121.3h0M722.3 123.4h0M697.8 135.2h0M714.5 121.6h0" stroke="#00ffff" stroke-width="7.0" stroke-linecap="round" fill="none"/>
<path d="M717.4 94.3h0M717.6 94.8h0M714.7 91.9h0M705.1 98.6h0M706.4 98.5h0M710.4 97.1h0M712.9 95.4h0M709.1 93.6h0M706.7 98.1h0M703.4 98.8h0M721.9 93.3h0M707.8 98.4h0" stroke="#00ffff" stroke-width="7.0" stroke-linecap="round" fill="none"/>
<path d="M700.9 146.5h0M704.9 149.3h0M709.2 150.3h0M712.5 152.2h0M715.9 152.7h0M720.0 154.4h0M723.8 156.4h0M728.4 157.6h0M732.1 159.2h0M737.2 162.4h0M741.2 162.6h0M744.4 165.4h0M748.7 166.9h0M752.2 168.8h0M755.8 169.9h0M760.0 170.9h0M763.2 173.6h0M768.0 175.0h0M771.0 176.0h0" stroke="#00ffff" stroke-width="7.0" stroke-linecap="round" fill="none"/>
<path d="M709.4 164.1h0M713.0 164.8h0M718.3 167.3h0M721.5 168.9h0M726.3 169.1h0M730.1 170.7h0M735.1 173.1h0M739.0 174.0h0" stroke="#00ffff" stroke-width="7.0" stroke-linecap="round" fill="none"/>
<path d="M745.2 127.9h0M749.6 129.4h0M752.4 131.4h0M757.7 133.3h0M761.5 134.1h0M765.0 136.0h0M769.1 138.0h0M773.3 139.4h0M777.2 139.7h0M781.0 142.0h0" stroke="#00ffff" stroke-width="7.0" stroke-linecap="round" fill="none"/>
<path d="M730.3 107.6h0M733.8 113.0h0M737.0 116.8h0M739.0 121.0h0" stroke="#00ffff" stroke-width="7.0" stroke-linecap="round" fill="none"/>
<path d="M773.6 117.1h0M777.3 119.8h0M781.5 123.2h0M785.9 124.5h0M789.0 128.0h0" stroke="#00ffff" stroke-width="7.0" stroke-linecap="round" fill="none"/>
<path d="M743.5 130.2h0M747.8 131.6h0M753.0 133.8h0M756.4 134.8h0M760.8 136.4h0M764.9 138.9h0M769.3 140.1h0M773.4 142.9h0M777.3 144.8h0M782.0 146.0h0" stroke="#00ffff" stroke-width="7.0" stroke-linecap="round" fill="none"/>
<path d="M753.2 126.0h0M757.5 125.5h0M763.5 123.5h0M768.0 122.0h0" stroke="#00ffff" stroke-width="7.0" stroke-linecap="round" fill="none"/>
<path d="M757.1 140.2h0M761.5 141.2h0M765.8 143.7h0M770.4 146.4h0M775.6 147.5h0M780.6 148.1h0M784.8 148.6h0M789.0 150.0h0" stroke="#00ffff" stroke-width="7.0" stroke-linecap="round" fill="none"/>
<path d="M772.4 117.4h0M776.8 119.3h0M780.0 122.5h0M782.7 126.0h0M786.4 128.7h0M789.0 131.0h0" stroke="#00ffff" stroke-width="7.0" stroke-linecap="round" fill="none"/>
<path d="M736.5 160.3h0M740.7 160.5h0M744.0 160.1h0M747.9 159.5h0M753.5 159.5h0M757.0 160.0h0" stroke="#00ffff" stroke-width="7.0" stroke-linecap="round" fill="none"/>
<path d="M763.8 156.5h0M768.6 157.1h0M773.3 157.8h0M778.6 157.0h0M783.9 157.8h0M789.0 158.0h0" stroke="#00ffff" stroke-width="7.0" stroke-linecap="round" fill="none"/>
<path d="M747.8 150.8h0M753.4 151.2h0M757.5 150.7h0M762.0 152.0h0" stroke="#00ffff" stroke-width="7.0" stroke-linecap="round" fill="none"/>
<path d="M876.3 206.1h0M829.6 180.1h0M854.0 198.7h0M864.3 251.5h0M885.8 229.1h0M823.0 193.1h0M828.2 171.3h0M854.9 213.1h0M850.9 222.4h0M875.7 238.3h0M856.9 244.3h0M871.2 239.6h0M868.0 246.6h0M835.5 184.1h0M868.2 222.7h0M880.2 224.1h0M850.4 214.5h0M833.3 198.1h0M853.7 219.7h0M854.5 204.9h0M844.0 176.7h0M805.4 163.8h0M823.8 174.1h0M860.3 202.6h0M875.8 239.4h0M852.8 185.9h0M849.1 184.3h0M837.4 180.3h0M893.7 202.6h0M852.9 238.8h0M868.1 233.0h0M810.0 176.1h0M862.5 210.5h0M887.7 236.9h0M855.2 225.8h0M849.8 229.4h0M855.6 255.5h0M904.7 207.1h0M868.2 249.0h0M838.1 193.2h0M871.9 210.4h0M809.1 166.0h0M839.9 194.6h0M847.5 205.2h0M837.5 179.2h0M836.0 183.6h0M849.3 232.7h0M879.9 226.5h0M859.6 223.5h0M876.9 257.3h0M879.1 211.8h0M862.7 217.2h0M809.9 175.7h0M862.2 250.4h0M811.5 165.4h0M883.1 213.4h0M866.8 219.5h0M889.3 219.2h0M878.8 253.8h0M887.3 230.5h0M864.7 229.3h0M808.7 171.8h0M871.3 215.0h0M874.3 222.4h0M810.4 166.3h0M868.2 229.4h0M836.4 191.5h0M823.4 187.8h0M828.1 187.7h0M842.5 187.0h0M819.1 182.0h0M861.4 243.5h0M845.3 179.5h0M849.2 207.1h0M849.5 226.0h0M853.0 186.3h0M870.7 231.8h0M886.1 227.8h0M898.5 205.3h0M837.5 199.1h0M870.5 210.6h0M854.1 193.5h0M817.1 177.8h0M810.5 168.8h0M872.2 231.7h0M881.3 245.4h0M854.4 195.6h0M848.3 232.3h0M812.5 176.4h0M876.1 203.6h0M844.8 201.0h0M840.0 175.4h0M824.3 167.6h0M864.7 212.3h0M872.4 199.3h0M849.7 199.2h0M865.5 228.3h0M871.6 243.6h0M878.8 237.2h0M813.1 172.7h0M894.6 213.3h0M868.9 229.0h0M854.1 202.2h0M855.6 254.5h0M855.5 232.3h0M847.8 183.8h0M879.3 214.9h0M878.7 249.6h0M872.3 209.3h0M859.2 204.6h0M843.1 184.3h0M886.0 218.0h0M873.2 203.3h0M852.1 253.7h0M815.4 183.3h0M842.4 190.0h0M828.6 174.9h0M816.7 176.2h0M815.0 166.5h0M857.1 233.3h0M884.0 242.3h0M875.3 206.7h0M857.1 202.5h0M843.3 178.3h0M861.2 250.8h0M857.2 226.8h0M849.0 243.9h0M882.8 240.8h0M827.8 188.1h0M881.6 248.2h0M878.4 231.6h0M877.6 217.4h0M861.1 243.0h0M813.3 169.4h0M835.7 178.7h0M837.6 186.5h0M883.7 240.0h0M854.9 203.0h0M824.3 192.7h0M897.0 213.4h0M844.9 202.7h0M873.9 257.2h0M860.7 207.3h0M826.6 170.2h0M811.4 164.5h0M866.0 210.9h0M808.7 170.5h0M865.7 217.8h0M844.7 184.3h0M811.9 172.7h0M888.0 203.9h0M857.7 195.2h0M851.7 219.9h0M870.0 246.3h0M834.7 198.4h0M873.7 221.1h0M876.0 233.2h0M879.3 209.8h0M833.5 196.3h0M843.6 198.9h0M878.5 235.2h0M899.8 208.7h0M855.3 199.8h0M888.1 218.5h0M851.6 188.4h0M861.4 207.0h0M873.2 251.2h0M823.3 176.0h0M854.2 214.8h0M820.9 181.0h0M871.3 212.6h0M835.5 201.3h0M878.0 247.1h0M850.5 210.1h0M833.8 173.8h0M829.9 171.2h0M846.5 184.5h0M804.9 167.7h0M879.0 201.3h0M868.3 201.0h0M809.8 175.4h0M837.1 175.2h0M868.6 236.2h0M867.6 199.0h0M871.0 234.9h0M867.1 212.0h0M860.6 229.7h0M823.2 180.5h0M855.1 210.8h0" stroke="#00ffff" stroke-width="7.0" stroke-linecap="round" fill="none"/>
<path d="M803.5 162.7h0M807.4 162.9h0M811.5 164.3h0M816.6 166.4h0M819.4 166.7h0M822.6 168.6h0M827.0 170.2h0M830.1 170.7h0M833.3 173.3h0M836.7 174.4h0M841.0 176.2h0M844.4 177.1h0M848.5 178.7h0M851.6 182.8h0M853.7 185.7h0M857.0 189.7h0M859.8 191.6h0M862.8 195.2h0M867.5 197.1h0M869.7 198.3h0M875.2 199.9h0M879.9 201.0h0M884.0 201.5h0M888.3 202.9h0M891.2 203.9h0M896.8 204.5h0M900.0 206.0h0" stroke="#00ffff" stroke-width="7.0" stroke-linecap="round" fill="none"/>
<path d="M864.2 183.1h0" stroke="#00ffff" stroke-width="7.0" stroke-linecap="round" fill="none"/>
<path d="M868.7 190.1h0" stroke="#00ffff" stroke-width="7.0" stroke-linecap="round" fill="none"/>
<path d="M864.6 344.8h0M871.3 263.5h0M870.3 262.4h0M860.3 291.6h0M852.3 248.7h0M858.1 369.9h0M871.3 256.2h0M867.9 269.4h0M866.6 311.4h0M858.2 374.9h0M854.4 357.3h0M861.3 366.8h0M852.6 259.7h0M853.8 342.8h0M850.7 394.9h0M847.9 405.9h0M858.5 256.5h0M863.2 342.9h0M851.1 257.4h0M878.1 269.0h0M863.5 332.0h0M858.8 299.4h0M868.3 331.7h0M860.9 282.6h0M867.5 307.3h0M868.1 337.3h0M861.4 292.9h0M859.4 310.2h0M873.1 278.3h0M852.4 254.3h0M848.4 388.0h0M861.4 322.1h0M856.6 359.3h0M861.8 327.4h0M865.2 333.9h0M857.4 367.9h0M863.3 296.5h0M863.8 367.9h0M870.3 320.6h0M863.3 300.2h0M854.6 352.0h0M850.8 374.1h0M871.7 300.7h0M865.6 326.9h0M852.9 410.2h0M852.9 257.5h0M868.8 244.8h0M858.5 334.1h0M854.4 250.4h0M879.6 261.3h0M855.2 247.7h0M853.0 356.7h0M856.2 389.4h0M858.5 269.3h0M869.8 256.8h0M859.1 387.2h0M851.9 359.5h0M861.0 257.0h0M874.3 291.5h0M858.1 253.6h0M859.3 391.8h0M859.2 306.7h0M850.6 395.5h0M868.3 329.4h0M868.6 326.5h0M871.0 299.6h0M852.1 373.8h0M855.9 393.6h0M873.6 264.8h0M854.8 375.8h0M850.6 363.1h0M857.0 373.1h0M856.2 241.1h0M848.2 413.0h0M848.5 246.6h0M877.2 269.5h0M866.7 290.7h0M849.3 382.9h0M857.1 336.1h0M854.8 367.0h0M867.1 335.2h0M864.3 259.7h0M879.4 257.6h0M859.3 301.6h0M855.1 299.9h0M863.7 318.6h0M863.9 277.5h0M859.6 311.6h0M851.7 263.4h0M875.8 249.6h0M854.9 298.4h0M859.5 311.4h0M862.0 314.3h0M856.3 312.4h0M862.8 352.9h0M868.9 270.9h0M850.1 402.6h0M869.3 289.4h0M858.9 310.6h0M853.1 381.4h0M853.9 376.9h0M871.4 282.8h0M859.7 268.1h0M853.2 415.6h0M866.6 347.7h0M856.7 323.8h0M852.3 361.7h0M856.3 241.5h0M853.9 333.5h0M865.4 362.7h0M864.0 366.6h0M856.9 313.1h0M870.4 315.5h0M853.5 287.1h0M874.0 297.6h0M879.0 250.4h0M861.0 350.3h0M864.3 348.0h0M849.1 409.5h0M865.1 260.4h0M876.8 251.0h0M872.1 269.7h0M855.6 265.6h0M864.9 324.7h0M869.8 287.8h0M860.4 300.3h0M856.1 363.6h0M865.1 320.6h0M869.9 248.9h0M862.6 324.2h0M857.6 364.4h0M870.6 286.2h0M858.0 292.6h0M869.9 270.3h0M871.5 317.8h0M856.2 278.9h0M858.9 364.3h0M878.4 248.1h0M860.2 283.8h0M866.9 352.5h0M866.4 291.3h0M852.2 379.7h0M868.8 249.1h0M868.4 333.1h0M862.0 251.7h0M871.3 258.2h0M858.7 385.6h0M872.9 301.3h0M854.7 249.5h0M861.5 354.5h0M850.8 377.0h0M853.6 323.8h0M852.4 365.2h0M869.6 278.6h0M856.5 314.9h0M877.9 258.1h0M865.1 247.5h0M865.6 325.1h0M870.6 249.6h0M875.0 246.9h0M857.7 292.0h0M866.5 345.4h0M870.8 281.6h0M855.0 268.7h0M849.8 392.5h0M862.9 304.3h0M852.5 360.5h0M877.6 252.0h0M848.3 389.2h0M860.9 273.0h0M864.6 251.1h0M859.3 358.2h0M859.6 300.9h0M866.9 243.4h0M857.0 321.0h0" stroke="#00ffff" stroke-width="7.0" stroke-linecap="round" fill="none"/>
<path d="M855.3 407.6h0M855.4 410.8h0M854.9 414.0h0M853.8 416.8h0M853.4 420.9h0M853.2 423.2h0M853.0 426.7h0M854.0 430.7h0M853.3 434.1h0M852.2 436.5h0M852.9 440.7h0M852.5 443.4h0M851.4 447.0h0M851.6 449.5h0M851.5 453.7h0M849.6 456.8h0M850.2 459.8h0M849.3 462.8h0M847.7 466.6h0M847.5 470.6h0M847.6 472.9h0M847.9 477.1h0M846.3 479.7h0M847.2 482.9h0M845.4 486.5h0M846.1 490.4h0M844.1 492.8h0M844.3 496.7h0M843.9 499.5h0M843.3 502.8h0M842.0 506.1h0M842.9 510.2h0M841.6 513.7h0M841.7 516.5h0M840.6 520.1h0M840.7 523.1h0M840.5 526.0h0M840.8 530.1h0M840.7 533.2h0M840.5 535.9h0M839.3 539.0h0M840.3 543.8h0M839.3 545.8h0M839.6 549.9h0M840.1 553.2h0M839.7 556.6h0M840.0 560.4h0M841.5 562.6h0M840.8 567.0h0M839.9 569.3h0M839.0 573.6h0M839.2 576.5h0M837.7 579.5h0M836.6 582.4h0M836.1 586.8h0M835.1 589.7h0M834.6 593.4h0M833.9 595.4h0M833.4 600.2h0M833.7 602.1h0M832.5 605.6h0M832.8 609.9h0M832.2 613.3h0M831.5 616.1h0M830.9 620.0h0M830.0 622.4h0M829.3 625.8h0M829.5 630.1h0M829.2 632.3h0M827.8 636.5h0M827.2 639.3h0M826.7 641.9h0M826.0 646.6h0M826.4 648.4h0M825.2 653.3h0M824.3 655.5h0M823.6 658.8h0M823.9 661.9h0M822.3 666.1h0M822.0 669.4h0M821.1 671.9h0M820.0 675.2h0M819.3 678.6h0M819.8 682.1h0M819.0 685.3h0M817.7 688.8h0M817.8 692.6h0M818.0 695.7h0M816.5 699.4h0M817.2 702.0h0M815.7 706.0h0M815.8 709.7h0M815.6 711.6h0M815.4 714.9h0M815.5 719.0h0M814.7 722.8h0M813.4 726.2h0M813.6 728.7h0M813.1 731.8h0M813.7 735.6h0M812.0 738.4h0M811.7 742.5h0M811.3 746.0h0M811.5 748.5h0M811.6 752.6h0M810.2 755.4h0M811.0 757.9h0M809.1 762.1h0M810.0 765.4h0M809.6 768.6h0M808.2 771.6h0M808.4 774.7h0M807.6 778.9h0M807.6 781.7h0M808.3 784.6h0M807.9 789.2h0M806.2 791.8h0M806.4 795.7h0M805.5 797.8h0M805.3 801.3h0M804.8 805.1h0" stroke="#00ffff" stroke-width="6.8" stroke-linecap="round" fill="none"/>
<polyline points="747.4,29.0 745.3,48.9 753.1,68.8 803.8,88.7 782.3,108.6 731.3,128.5 744.5,148.4 786.5,168.3 841.0,188.2 863.4,208.1 862.4,228.0 865.4,247.9 862.0,267.8 860.2,287.7 861.3,307.6 858.7,327.5 858.7,347.4 856.9,367.3 854.6,387.2 852.4,407.1 850.6,427.0 849.0,446.9 845.4,466.8 843.1,486.7 839.5,506.6 837.7,526.5 836.5,546.4 838.4,566.3 832.5,586.2 830.1,606.1 826.5,626.0 823.5,645.9 819.4,665.8 815.9,685.7 813.5,705.6 811.2,725.5 808.8,745.4 806.5,765.3 804.8,785.2 801.8,805.1" fill="none" stroke="#0000ff" stroke-width="2.20" stroke-linejoin="round" stroke-linecap="round"/>
<circle cx="747.4" cy="29.0" r="6.00" fill="#0000ff"/>
<circle cx="745.3" cy="48.9" r="6.00" fill="#0000ff"/>
<circle cx="753.1" cy="68.8" r="6.00" fill="#0000ff"/>
<circle cx="803.8" cy="88.7" r="6.00" fill="#0000ff"/>
<circle cx="782.3" cy="108.6" r="6.00" fill="#0000ff"/>
<circle cx="731.3" cy="128.5" r="6.00" fill="#0000ff"/>
<circle cx="744.5" cy="148.4" r="6.00" fill="#0000ff"/>
<circle cx="786.5" cy="168.3" r="6.00" fill="#0000ff"/>
<circle cx="841.0" cy="188.2" r="6.00" fill="#0000ff"/>
<circle cx="863.4" cy="208.1" r="6.00" fill="#0000ff"/>
<circle cx="862.4" cy="228.0" r="6.00" fill="#0000ff"/>
<circle cx="865.4" cy="247.9" r="6.00" fill="#0000ff"/>
<circle cx="862.0" cy="267.8" r="6.00" fill="#0000ff"/>
<circle cx="860.2" cy="287.7" r="6.00" fill="#0000ff"/>
<circle cx="861.3" cy="307.6" r="6.00" fill="#0000ff"/>
<circle cx="858.7" cy="327.5" r="6.00" fill="#0000ff"/>
<circle cx="858.7" cy="347.4" r="6.00" fill="#0000ff"/>
<circle cx="856.9" cy="367.3" r="6.00" fill="#0000ff"/>
<circle cx="854.6" cy="387.2" r="6.00" fill="#0000ff"/>
<circle cx="852.4" cy="407.1" r="6.00" fill="#0000ff"/>
<circle cx="850.6" cy="427.0" r="6.00" fill="#0000ff"/>
<circle cx="849.0" cy="446.9" r="6.00" fill="#0000ff"/>
<circle cx="845.4" cy="466.8" r="6.00" fill="#0000ff"/>
<circle cx="843.1" cy="486.7" r="6.00" fill="#0000ff"/>
<circle cx="839.5" cy="506.6" r="6.00" fill="#0000ff"/>
<circle cx="837.7" cy="526.5" r="6.00" fill="#0000ff"/>
<circle cx="836.5" cy="546.4" r="6.00" fill="#0000ff"/>
<circle cx="838.4" cy="566.3" r="6.00" fill="#0000ff"/>
<circle cx="832.5" cy="586.2" r="6.00" fill="#0000ff"/>
<circle cx="830.1" cy="606.1" r="6.00" fill="#0000ff"/>
<circle cx="826.5" cy="626.0" r="6.00" fill="#0000ff"/>
<circle cx="823.5" cy="645.9" r="6.00" fill="#0000ff"/>
<circle cx="819.4" cy="665.8" r="6.00" fill="#0000ff"/>
<circle cx="815.9" cy="685.7" r="6.00" fill="#0000ff"/>
<circle cx="813.5" cy="705.6" r="6.00" fill="#0000ff"/>
<circle cx="811.2" cy="725.5" r="6.00" fill="#0000ff"/>
<circle cx="808.8" cy="745.4" r="6.00" fill="#0000ff"/>
<circle cx="806.5" cy="765.3" r="6.00" fill="#0000ff"/>
<circle cx="804.8" cy="785.2" r="6.00" fill="#0000ff"/>
<circle cx="801.8" cy="805.1" r="6.00" fill="#0000ff"/>
<polyline points="768.6,19.0 769.0,23.0 769.5,27.0 770.0,30.9 770.5,34.9 771.0,38.9 771.3,42.9 771.6,48.9 773.5,58.8 775.9,68.8 782.6,78.7 791.0,88.7 795.9,98.6 796.5,108.6 797.1,118.5 793.6,138.4 794.3,158.3 800.0,178.2 815.5,198.1 838.2,218.0 863.6,267.8 869.9,317.5 859.6,417.0 846.6,516.5 822.9,616.1 807.6,715.6 794.7,815.1" fill="none" stroke="#ff0000" stroke-width="8.30" stroke-linejoin="round" stroke-linecap="round"/>
<circle cx="768.6" cy="19.0" r="6.00" fill="#ff0000"/>
<circle cx="769.0" cy="23.0" r="6.00" fill="#ff0000"/>
<circle cx="769.5" cy="27.0" r="6.00" fill="#ff0000"/>
<circle cx="770.0" cy="30.9" r="6.00" fill="#ff0000"/>
<circle cx="770.5" cy="34.9" r="6.00" fill="#ff0000"/>
<circle cx="771.0" cy="38.9" r="6.00" fill="#ff0000"/>
<circle cx="771.3" cy="42.9" r="6.00" fill="#ff0000"/>
<circle cx="771.6" cy="48.9" r="6.00" fill="#ff0000"/>
<circle cx="773.5" cy="58.8" r="6.00" fill="#ff0000"/>
<circle cx="775.9" cy="68.8" r="6.00" fill="#ff0000"/>
<circle cx="782.6" cy="78.7" r="6.00" fill="#ff0000"/>
<circle cx="791.0" cy="88.7" r="6.00" fill="#ff0000"/>
<circle cx="795.9" cy="98.6" r="6.00" fill="#ff0000"/>
<circle cx="796.5" cy="108.6" r="6.00" fill="#ff0000"/>
<circle cx="797.1" cy="118.5" r="6.00" fill="#ff0000"/>
<circle cx="793.6" cy="138.4" r="6.00" fill="#ff0000"/>
<circle cx="794.3" cy="158.3" r="6.00" fill="#ff0000"/>
<circle cx="800.0" cy="178.2" r="6.00" fill="#ff0000"/>
<circle cx="815.5" cy="198.1" r="6.00" fill="#ff0000"/>
<circle cx="838.2" cy="218.0" r="6.00" fill="#ff0000"/>
<circle cx="863.6" cy="267.8" r="6.00" fill="#ff0000"/>
<circle cx="869.9" cy="317.5" r="6.00" fill="#ff0000"/>
<circle cx="859.6" cy="417.0" r="6.00" fill="#ff0000"/>
<circle cx="846.6" cy="516.5" r="6.00" fill="#ff0000"/>
<circle cx="822.9" cy="616.1" r="6.00" fill="#ff0000"/>
<circle cx="807.6" cy="715.6" r="6.00" fill="#ff0000"/>
<circle cx="794.7" cy="815.1" r="6.00" fill="#ff0000"/>
<polyline points="702.5,19.0 702.5,23.0 702.5,27.0 702.5,30.9 702.5,34.9 702.5,38.9 702.5,42.9 702.5,48.9 702.5,58.8 708.6,68.8 717.7,78.7 720.3,88.7 721.3,98.6 718.6,108.6 717.9,118.5 716.4,138.4 724.9,158.3 749.0,178.2 775.9,198.1 804.2,218.0 835.5,267.8 843.8,317.5 840.7,417.0 836.0,516.5 828.8,616.1 819.4,715.6 802.9,815.1" fill="none" stroke="#008000" stroke-width="2.60" stroke-linejoin="round" stroke-linecap="round"/>
<circle cx="702.5" cy="19.0" r="6.00" fill="#008000"/>
<circle cx="702.5" cy="23.0" r="6.00" fill="#008000"/>
<circle cx="702.5" cy="27.0" r="6.00" fill="#008000"/>
<circle cx="702.5" cy="30.9" r="6.00" fill="#008000"/>
<circle cx="702.5" cy="34.9" r="6.00" fill="#008000"/>
<circle cx="702.5" cy="38.9" r="6.00" fill="#008000"/>
<circle cx="702.5" cy="42.9" r="6.00" fill="#008000"/>
<circle cx="702.5" cy="48.9" r="6.00" fill="#008000"/>
<circle cx="702.5" cy="58.8" r="6.00" fill="#008000"/>
<circle cx="708.6" cy="68.8" r="6.00" fill="#008000"/>
<circle cx="717.7" cy="78.7" r="6.00" fill="#008000"/>
<circle cx="720.3" cy="88.7" r="6.00" fill="#008000"/>
<circle cx="721.3" cy="98.6" r="6.00" fill="#008000"/>
<circle cx="718.6" cy="108.6" r="6.00" fill="#008000"/>
<circle cx="717.9" cy="118.5" r="6.00" fill="#008000"/>
<circle cx="716.4" cy="138.4" r="6.00" fill="#008000"/>
<circle cx="724.9" cy="158.3" r="6.00" fill="#008000"/>
<circle cx="749.0" cy="178.2" r="6.00" fill="#008000"/>
<circle cx="775.9" cy="198.1" r="6.00" fill="#008000"/>
<circle cx="804.2" cy="218.0" r="6.00" fill="#008000"/>
<circle cx="835.5" cy="267.8" r="6.00" fill="#008000"/>
<circle cx="843.8" cy="317.5" r="6.00" fill="#008000"/>
<circle cx="840.7" cy="417.0" r="6.00" fill="#008000"/>
<circle cx="836.0" cy="516.5" r="6.00" fill="#008000"/>
<circle cx="828.8" cy="616.1" r="6.00" fill="#008000"/>
<circle cx="819.4" cy="715.6" r="6.00" fill="#008000"/>
<circle cx="802.9" cy="815.1" r="6.00" fill="#008000"/>
<polyline points="810.5,20.0 810.5,22.0 810.5,24.2 811.0,26.6 812.0,29.2 815.0,31.7 822.0,34.7 829.3,38.1 833.0,41.7 836.0,45.9 838.0,50.4 840.0,55.8 840.8,62.0 839.0,69.2 819.6,77.5 792.3,87.5 773.3,99.2 758.2,113.3 723.5,130.1 692.4,150.0 703.4,174.0 748.3,202.7 793.9,237.3 828.3,279.1 841.1,329.3 842.2,389.4 841.9,461.8 834.8,548.4 811.9,652.1 793.5,775.7" fill="none" stroke="#ff00ff" stroke-width="2.20" stroke-linejoin="round" stroke-linecap="round"/>
<circle cx="810.5" cy="20.0" r="6.00" fill="#ff00ff"/>
<circle cx="810.5" cy="22.0" r="6.00" fill="#ff00ff"/>
<circle cx="810.5" cy="24.2" r="6.00" fill="#ff00ff"/>
<circle cx="811.0" cy="26.6" r="6.00" fill="#ff00ff"/>
<circle cx="812.0" cy="29.2" r="6.00" fill="#ff00ff"/>
<circle cx="815.0" cy="31.7" r="6.00" fill="#ff00ff"/>
<circle cx="822.0" cy="34.7" r="6.00" fill="#ff00ff"/>
<circle cx="829.3" cy="38.1" r="6.00" fill="#ff00ff"/>
<circle cx="833.0" cy="41.7" r="6.00" fill="#ff00ff"/>
<circle cx="836.0" cy="45.9" r="6.00" fill="#ff00ff"/>
<circle cx="838.0" cy="50.4" r="6.00" fill="#ff00ff"/>
<circle cx="840.0" cy="55.8" r="6.00" fill="#ff00ff"/>
<circle cx="840.8" cy="62.0" r="6.00" fill="#ff00ff"/>
<circle cx="839.0" cy="69.2" r="6.00" fill="#ff00ff"/>
<circle cx="819.6" cy="77.5" r="6.00" fill="#ff00ff"/>
<circle cx="792.3" cy="87.5" r="6.00" fill="#ff00ff"/>
<circle cx="773.3" cy="99.2" r="6.00" fill="#ff00ff"/>
<circle cx="758.2" cy="113.3" r="6.00" fill="#ff00ff"/>
<circle cx="723.5" cy="130.1" r="6.00" fill="#ff00ff"/>
<circle cx="692.4" cy="150.0" r="6.00" fill="#ff00ff"/>
<circle cx="703.4" cy="174.0" r="6.00" fill="#ff00ff"/>
<circle cx="748.3" cy="202.7" r="6.00" fill="#ff00ff"/>
<circle cx="793.9" cy="237.3" r="6.00" fill="#ff00ff"/>
<circle cx="828.3" cy="279.1" r="6.00" fill="#ff00ff"/>
<circle cx="841.1" cy="329.3" r="6.00" fill="#ff00ff"/>
<circle cx="842.2" cy="389.4" r="6.00" fill="#ff00ff"/>
<circle cx="841.9" cy="461.8" r="6.00" fill="#ff00ff"/>
<circle cx="834.8" cy="548.4" r="6.00" fill="#ff00ff"/>
<circle cx="811.9" cy="652.1" r="6.00" fill="#ff00ff"/>
<circle cx="793.5" cy="775.7" r="6.00" fill="#ff00ff"/>
</g>
<g clip-path="url(#ax2)">
<path d="M1097.9 20.4h0M1098.7 23.7h0M1097.9 28.5h0M1098.7 32.3h0M1098.2 35.9h0M1098.8 39.3h0M1098.7 43.9h0M1099.9 47.2h0M1100.4 51.3h0M1099.8 54.4h0M1099.0 59.2h0M1098.0 63.0h0" stroke="#00ffff" stroke-width="7.0" stroke-linecap="round" fill="none"/>
<path d="M1101.2 19.7h0M1100.6 24.3h0M1102.1 26.9h0M1101.6 30.9h0M1101.2 33.9h0M1101.0 38.0h0M1101.3 41.5h0M1101.9 44.5h0M1102.8 49.9h0M1103.2 53.8h0M1104.1 57.4h0M1104.0 62.0h0" stroke="#00ffff" stroke-width="7.0" stroke-linecap="round" fill="none"/>
<path d="M1101.2 62.1h0M1098.6 64.2h0M1099.9 65.4h0M1096.0 63.4h0" stroke="#00ffff" stroke-width="7.0" stroke-linecap="round" fill="none"/>
<path d="M1196.9 87.8h0M1279.2 129.9h0M1359.4 232.3h0M1204.6 89.1h0M1341.3 195.3h0M1268.1 117.1h0M1176.1 90.8h0M1254.6 107.2h0M1353.6 233.8h0M1185.1 96.1h0M1344.0 217.9h0M1110.4 71.6h0M1217.1 92.9h0M1205.0 104.6h0M1134.8 77.7h0M1224.7 103.0h0M1175.6 93.7h0M1271.4 130.4h0M1354.4 232.2h0M1152.5 77.3h0M1358.8 255.8h0M1347.9 213.6h0M1238.9 101.8h0M1288.4 135.3h0M1313.4 165.2h0M1296.9 143.7h0M1204.2 89.4h0M1369.6 293.8h0M1192.7 91.7h0M1121.5 73.1h0M1143.5 76.0h0M1269.4 130.4h0M1181.3 94.6h0M1299.6 153.5h0M1304.9 164.5h0M1135.6 71.8h0M1347.4 201.0h0M1223.0 97.5h0M1314.5 164.2h0M1213.2 94.2h0M1331.8 182.2h0M1349.5 230.8h0M1133.5 70.6h0M1274.8 129.9h0M1164.9 84.7h0M1216.7 95.3h0M1119.2 74.5h0M1302.6 158.1h0M1364.5 247.6h0M1310.3 169.2h0M1208.8 98.1h0M1350.4 207.1h0M1347.0 210.6h0M1192.5 82.0h0M1123.6 70.9h0M1202.5 98.0h0M1236.3 107.0h0M1368.6 268.4h0M1208.8 102.0h0M1134.8 72.1h0M1212.7 99.8h0M1268.2 128.2h0M1148.9 84.3h0M1192.2 101.0h0M1351.2 209.6h0M1366.0 281.0h0M1212.4 100.4h0M1334.2 182.8h0M1129.5 78.0h0M1322.0 184.3h0M1290.9 138.1h0M1310.9 164.0h0M1287.8 138.3h0M1272.0 118.7h0M1363.5 253.1h0M1239.3 100.6h0M1259.2 110.9h0M1147.4 78.6h0M1350.2 221.9h0M1290.7 144.3h0M1183.4 94.9h0M1145.3 82.5h0M1308.6 162.7h0M1317.8 175.7h0M1297.3 153.3h0M1182.2 83.1h0M1290.2 148.4h0M1129.0 78.2h0M1290.3 145.8h0M1216.3 94.9h0M1360.6 241.0h0M1208.5 101.0h0M1214.4 105.6h0M1268.1 115.3h0M1171.7 86.7h0M1286.2 137.5h0M1183.2 83.5h0M1303.3 149.8h0M1360.6 231.7h0M1328.7 177.7h0M1365.1 274.1h0M1301.4 145.9h0M1283.6 135.5h0M1226.4 107.4h0M1339.3 206.3h0M1285.4 132.4h0M1229.9 109.1h0M1129.1 72.0h0M1312.4 171.4h0M1237.2 99.0h0M1150.6 87.9h0M1247.0 110.7h0M1309.5 164.8h0M1352.3 212.2h0M1251.0 100.1h0M1130.6 82.6h0M1277.3 121.6h0M1320.8 168.9h0M1193.8 96.5h0M1345.9 208.5h0M1212.0 91.9h0M1364.6 242.6h0M1153.3 85.2h0M1354.5 224.1h0M1248.9 119.3h0M1303.2 150.1h0M1297.3 139.2h0M1246.2 109.9h0M1363.2 273.4h0M1163.7 84.3h0M1179.7 91.6h0M1196.4 101.4h0M1213.9 102.8h0M1312.9 171.5h0M1131.2 72.0h0M1230.2 101.3h0M1323.3 180.3h0M1200.8 93.3h0M1143.8 70.7h0M1337.2 195.0h0M1193.3 100.1h0M1351.6 218.3h0M1363.4 249.3h0M1351.5 212.8h0M1187.3 85.2h0M1355.0 214.6h0M1303.7 150.6h0M1132.4 73.7h0M1366.9 257.9h0M1183.5 85.3h0M1236.6 95.3h0M1329.0 179.3h0M1337.3 189.1h0M1250.5 104.7h0M1347.7 225.0h0M1137.3 74.4h0M1309.9 161.4h0M1360.7 248.1h0M1365.5 269.4h0M1188.6 84.1h0M1278.4 132.4h0M1151.8 87.2h0M1187.2 93.6h0M1364.1 280.1h0M1151.4 86.8h0M1331.9 185.9h0M1231.0 109.4h0M1123.2 75.3h0M1274.8 136.2h0M1126.8 75.1h0M1277.3 125.8h0M1228.3 105.7h0M1191.3 90.7h0M1337.0 200.4h0M1326.6 172.3h0M1132.2 81.9h0M1148.0 81.4h0M1171.7 91.2h0M1147.7 81.8h0M1114.0 77.5h0M1330.8 182.4h0M1348.2 206.7h0M1334.2 188.9h0M1158.6 83.0h0M1350.9 215.2h0M1137.7 83.0h0M1132.0 76.2h0M1187.5 98.1h0M1265.2 116.0h0M1319.1 161.0h0M1130.8 78.1h0M1149.1 75.7h0M1372.0 295.9h0M1239.9 112.0h0M1126.3 72.3h0M1265.1 118.5h0M1367.8 287.5h0" stroke="#00ffff" stroke-width="7.0" stroke-linecap="round" fill="none"/>
<path d="M1103.6 70.4h0M1107.1 70.2h0M1111.9 71.0h0M1113.9 70.0h0M1119.0 70.0h0M1121.0 70.2h0M1124.6 69.2h0M1128.0 70.3h0M1132.7 69.9h0M1135.0 70.5h0M1139.9 70.2h0M1142.0 70.0h0M1145.1 70.2h0M1149.9 71.8h0M1152.1 71.3h0M1156.3 73.7h0M1159.6 73.9h0M1163.1 74.7h0M1166.3 74.7h0M1170.0 75.8h0M1172.9 77.3h0M1177.7 77.5h0M1182.9 79.5h0M1186.8 79.0h0M1190.0 81.7h0M1193.3 82.9h0M1197.7 83.5h0M1202.3 84.6h0M1204.8 85.5h0M1209.1 87.6h0M1212.8 89.6h0M1216.7 89.8h0M1221.4 91.9h0M1226.2 91.8h0M1228.3 94.1h0M1233.9 94.2h0M1237.9 95.7h0M1240.0 95.4h0M1245.2 97.6h0M1248.9 98.5h0M1253.0 99.7h0M1256.3 102.3h0M1260.1 104.8h0M1261.8 106.8h0M1265.2 110.3h0M1267.1 111.2h0M1269.0 113.9h0M1273.5 116.5h0M1275.6 118.9h0M1278.0 121.0h0M1281.4 123.5h0M1283.7 127.3h0M1288.1 128.8h0M1289.6 130.1h0M1292.3 133.6h0M1295.8 135.9h0M1299.3 138.0h0M1301.0 140.4h0M1302.8 143.4h0M1306.2 144.2h0M1307.3 148.2h0M1311.0 150.0h0M1313.4 151.7h0M1315.5 154.4h0M1316.3 157.2h0M1318.7 161.0h0M1322.2 164.6h0M1324.6 166.4h0M1325.4 169.8h0M1328.7 172.1h0M1331.1 176.1h0M1333.5 178.4h0M1335.8 180.6h0M1337.4 183.5h0M1339.6 187.3h0M1341.6 190.1h0M1342.9 191.6h0M1344.9 196.0h0M1346.7 198.1h0M1347.5 201.2h0M1350.9 203.9h0M1352.7 207.5h0M1353.7 210.0h0M1356.1 212.7h0M1355.9 216.2h0M1357.2 219.1h0M1358.3 222.5h0M1360.5 227.0h0M1360.1 229.8h0M1361.6 233.8h0M1362.9 235.4h0M1363.6 240.4h0M1364.2 242.0h0M1366.5 246.3h0M1367.1 250.3h0M1367.6 251.9h0M1366.5 255.3h0M1368.5 260.3h0M1368.0 262.1h0M1368.6 266.6h0M1369.8 269.1h0M1369.6 273.4h0M1370.0 276.1h0M1371.6 279.6h0M1371.1 283.9h0M1372.3 286.4h0M1372.5 289.3h0M1373.0 294.5h0M1373.0 297.0h0" stroke="#00ffff" stroke-width="7.0" stroke-linecap="round" fill="none"/>
<path d="M1104.2 74.8h0M1108.1 75.8h0M1112.5 78.3h0M1116.4 79.3h0M1121.2 81.6h0M1124.7 82.3h0M1130.9 82.4h0M1134.6 84.2h0M1138.6 85.9h0M1143.3 86.9h0M1146.2 87.9h0M1151.2 88.0h0M1154.1 89.5h0M1157.6 89.9h0M1162.9 92.1h0M1166.8 93.2h0M1169.9 94.2h0M1174.1 96.3h0M1177.7 97.2h0M1181.2 97.5h0M1186.1 99.0h0M1190.4 100.2h0M1192.4 102.0h0M1196.3 102.1h0M1201.1 104.3h0M1205.4 104.0h0M1207.9 106.5h0M1211.1 106.2h0M1214.6 108.8h0M1219.4 109.3h0M1225.0 110.9h0M1228.2 112.2h0M1232.6 111.9h0M1237.3 114.3h0M1241.2 116.0h0M1245.9 118.2h0M1250.7 119.1h0M1253.4 121.0h0M1255.9 124.6h0M1260.7 125.0h0M1262.9 128.1h0M1267.7 129.4h0M1269.4 131.7h0M1273.4 134.9h0M1276.3 137.6h0M1277.8 140.5h0M1282.4 142.3h0M1283.9 144.4h0M1288.1 147.7h0M1289.0 149.8h0M1293.2 152.1h0M1296.0 156.5h0M1297.8 158.2h0M1301.2 161.6h0M1305.0 163.8h0M1307.7 166.6h0M1310.9 170.7h0M1312.0 174.1h0M1315.3 176.5h0M1318.3 179.5h0M1320.2 181.7h0M1322.1 185.8h0M1326.0 188.2h0M1327.3 191.2h0M1329.9 195.4h0M1331.6 198.5h0M1334.0 202.2h0M1335.3 205.3h0M1337.0 210.0h0M1338.7 213.0h0M1340.7 216.9h0M1343.3 221.0h0M1344.8 225.3h0M1347.5 229.5h0M1348.3 231.2h0M1349.6 235.5h0M1351.1 239.3h0M1351.9 242.9h0M1354.4 247.1h0M1356.3 249.3h0M1356.8 253.2h0M1357.4 257.5h0M1359.0 261.9h0M1359.0 265.3h0M1359.2 270.6h0M1360.4 274.7h0M1362.2 277.7h0M1361.7 282.2h0M1362.7 285.4h0M1364.0 290.0h0" stroke="#00ffff" stroke-width="7.0" stroke-linecap="round" fill="none"/>
<path d="M1242.5 109.1h0M1244.6 110.5h0M1248.8 112.7h0M1251.6 114.2h0M1253.9 115.7h0M1256.8 117.0h0M1259.6 119.8h0M1262.7 120.6h0M1266.1 122.3h0M1268.0 124.8h0M1270.7 127.1h0M1274.1 128.5h0M1277.0 130.6h0M1278.6 133.2h0M1281.5 135.7h0M1284.1 138.6h0M1286.2 141.3h0M1289.1 143.1h0M1291.3 145.2h0M1293.8 148.2h0M1295.6 150.1h0M1298.9 154.0h0M1301.3 156.1h0M1303.1 157.8h0M1305.2 161.2h0M1308.2 163.2h0M1309.1 165.1h0M1311.4 168.3h0M1313.9 171.4h0M1317.5 173.5h0M1319.2 175.2h0M1321.4 178.5h0M1325.0 180.8h0M1326.8 183.8h0M1329.3 186.4h0M1331.3 187.4h0M1334.0 190.9h0M1335.7 194.3h0M1337.6 196.5h0M1339.4 199.8h0M1340.9 201.9h0M1343.4 206.0h0M1346.1 207.6h0M1346.5 211.0h0M1348.6 214.1h0M1348.9 217.4h0M1350.5 220.9h0M1350.9 224.8h0M1352.8 227.4h0M1354.5 230.5h0M1355.0 234.7h0M1356.4 237.2h0M1356.9 240.6h0M1358.1 244.4h0M1358.3 248.7h0M1359.3 251.0h0M1360.8 254.3h0M1362.7 257.1h0M1362.7 260.4h0M1364.3 264.9h0M1366.1 267.6h0M1365.7 270.4h0M1367.6 274.5h0M1367.3 277.9h0M1369.1 281.7h0M1369.7 284.2h0M1369.3 288.2h0M1370.8 291.6h0M1371.2 293.9h0M1371.4 297.9h0M1372.1 301.2h0M1373.3 303.7h0M1373.2 307.6h0" stroke="#00ffff" stroke-width="6.8" stroke-linecap="round" fill="none"/>
<path d="M1370.0 307.6h0M1371.6 311.5h0M1372.4 314.9h0M1373.0 318.1h0M1374.0 320.4h0M1373.9 323.5h0M1374.1 327.9h0M1375.7 330.8h0M1375.4 334.0h0M1375.5 337.3h0M1375.8 341.5h0M1376.7 343.5h0M1377.0 347.2h0M1377.3 350.5h0M1377.0 354.3h0M1378.5 357.4h0M1378.4 361.2h0M1379.1 363.8h0M1380.0 366.9h0M1379.8 370.3h0M1380.0 374.0h0M1380.7 377.3h0M1380.7 381.0h0M1382.1 384.5h0M1382.3 387.8h0M1382.6 390.9h0M1384.2 393.3h0M1384.6 397.3h0M1384.7 400.1h0M1386.0 403.5h0M1387.0 407.5h0M1386.4 411.0h0M1386.9 414.0h0M1387.1 416.6h0M1389.0 420.3h0M1389.0 424.4h0M1388.4 427.5h0M1390.4 430.6h0M1390.5 433.3h0M1390.9 436.6h0M1391.4 441.0h0M1393.3 444.1h0M1393.3 446.7h0M1393.8 449.8h0M1393.8 452.9h0M1395.0 456.4h0M1395.2 459.4h0M1396.1 464.2h0M1395.5 466.9h0M1396.6 470.2h0M1397.5 472.7h0M1397.1 477.4h0M1398.0 480.6h0M1398.8 483.4h0M1398.8 487.3h0M1399.7 490.4h0M1399.9 492.9h0M1401.3 497.0h0M1401.6 499.8h0M1400.8 503.2h0M1401.9 506.8h0M1402.1 510.1h0M1402.0 513.4h0M1402.9 515.9h0M1403.5 519.5h0M1404.3 523.1h0M1403.7 526.6h0M1404.5 530.6h0M1406.0 533.7h0M1405.1 535.8h0M1406.3 539.9h0M1406.4 543.2h0M1406.9 547.0h0M1407.0 549.7h0M1407.9 553.3h0M1408.3 556.9h0M1409.0 560.4h0M1409.7 562.9h0M1411.3 565.7h0M1411.6 569.5h0M1411.3 572.7h0M1411.1 576.1h0M1411.9 579.2h0M1412.2 583.2h0M1412.9 586.7h0M1413.5 589.2h0M1414.6 592.9h0M1414.4 596.4h0M1414.8 600.2h0M1415.5 602.5h0M1416.0 606.7h0M1416.3 609.2h0M1417.6 613.2h0M1417.8 615.4h0M1419.0 620.0h0M1419.4 623.2h0M1421.2 625.7h0M1421.8 628.7h0M1420.9 633.4h0M1421.3 636.6h0M1423.2 639.9h0M1422.8 642.1h0M1423.6 645.2h0M1424.5 649.1h0M1424.4 652.9h0M1424.4 655.7h0M1424.8 658.5h0M1425.8 663.3h0M1426.0 666.6h0M1426.2 668.4h0M1426.7 672.3h0M1427.5 676.4h0M1429.0 679.7h0M1429.5 683.2h0M1430.1 685.7h0M1429.2 688.5h0M1430.1 693.0h0M1430.2 695.8h0M1430.7 699.2h0M1431.3 702.2h0M1432.3 706.0h0M1432.2 709.7h0M1432.7 711.6h0M1434.5 715.3h0M1435.4 718.9h0M1435.6 722.9h0M1435.8 725.3h0M1436.6 728.8h0M1437.6 731.6h0M1437.8 735.9h0M1438.1 738.5h0M1439.5 742.3h0M1438.9 744.9h0M1439.4 749.5h0M1440.5 751.6h0M1440.4 754.8h0M1441.1 758.3h0M1441.2 762.0h0M1441.9 766.0h0M1442.9 769.1h0M1443.7 771.7h0M1443.4 776.1h0M1445.3 779.3h0M1445.1 781.3h0M1446.3 784.7h0M1445.7 788.3h0M1446.0 792.1h0M1446.8 795.4h0M1447.7 799.3h0M1447.6 801.3h0M1448.6 805.1h0" stroke="#00ffff" stroke-width="6.8" stroke-linecap="round" fill="none"/>
<polyline points="1100.3,29.0 1103.4,48.9 1122.0,68.8 1183.0,88.7 1238.5,108.6 1269.9,128.5 1289.6,148.4 1308.1,168.3 1327.8,188.2 1341.4,208.1 1348.8,228.0 1354.9,247.9 1361.8,267.8 1366.0,287.7 1369.2,307.6 1373.4,327.5 1375.1,347.4 1377.9,367.3 1380.6,387.2 1384.8,407.1 1387.6,427.0 1391.8,446.9 1394.6,466.8 1397.9,486.7 1400.1,506.6 1402.9,526.5 1405.7,546.4 1409.2,566.3 1411.1,586.2 1414.7,606.1 1419.1,626.0 1422.0,645.9 1424.3,665.8 1428.0,685.7 1430.6,705.6 1434.9,725.5 1437.8,745.4 1440.7,765.3 1444.2,785.2 1447.1,805.1" fill="none" stroke="#0000ff" stroke-width="2.20" stroke-linejoin="round" stroke-linecap="round"/>
<circle cx="1100.3" cy="29.0" r="6.00" fill="#0000ff"/>
<circle cx="1103.4" cy="48.9" r="6.00" fill="#0000ff"/>
<circle cx="1122.0" cy="68.8" r="6.00" fill="#0000ff"/>
<circle cx="1183.0" cy="88.7" r="6.00" fill="#0000ff"/>
<circle cx="1238.5" cy="108.6" r="6.00" fill="#0000ff"/>
<circle cx="1269.9" cy="128.5" r="6.00" fill="#0000ff"/>
<circle cx="1289.6" cy="148.4" r="6.00" fill="#0000ff"/>
<circle cx="1308.1" cy="168.3" r="6.00" fill="#0000ff"/>
<circle cx="1327.8" cy="188.2" r="6.00" fill="#0000ff"/>
<circle cx="1341.4" cy="208.1" r="6.00" fill="#0000ff"/>
<circle cx="1348.8" cy="228.0" r="6.00" fill="#0000ff"/>
<circle cx="1354.9" cy="247.9" r="6.00" fill="#0000ff"/>
<circle cx="1361.8" cy="267.8" r="6.00" fill="#0000ff"/>
<circle cx="1366.0" cy="287.7" r="6.00" fill="#0000ff"/>
<circle cx="1369.2" cy="307.6" r="6.00" fill="#0000ff"/>
<circle cx="1373.4" cy="327.5" r="6.00" fill="#0000ff"/>
<circle cx="1375.1" cy="347.4" r="6.00" fill="#0000ff"/>
<circle cx="1377.9" cy="367.3" r="6.00" fill="#0000ff"/>
<circle cx="1380.6" cy="387.2" r="6.00" fill="#0000ff"/>
<circle cx="1384.8" cy="407.1" r="6.00" fill="#0000ff"/>
<circle cx="1387.6" cy="427.0" r="6.00" fill="#0000ff"/>
<circle cx="1391.8" cy="446.9" r="6.00" fill="#0000ff"/>
<circle cx="1394.6" cy="466.8" r="6.00" fill="#0000ff"/>
<circle cx="1397.9" cy="486.7" r="6.00" fill="#0000ff"/>
<circle cx="1400.1" cy="506.6" r="6.00" fill="#0000ff"/>
<circle cx="1402.9" cy="526.5" r="6.00" fill="#0000ff"/>
<circle cx="1405.7" cy="546.4" r="6.00" fill="#0000ff"/>
<circle cx="1409.2" cy="566.3" r="6.00" fill="#0000ff"/>
<circle cx="1411.1" cy="586.2" r="6.00" fill="#0000ff"/>
<circle cx="1414.7" cy="606.1" r="6.00" fill="#0000ff"/>
<circle cx="1419.1" cy="626.0" r="6.00" fill="#0000ff"/>
<circle cx="1422.0" cy="645.9" r="6.00" fill="#0000ff"/>
<circle cx="1424.3" cy="665.8" r="6.00" fill="#0000ff"/>
<circle cx="1428.0" cy="685.7" r="6.00" fill="#0000ff"/>
<circle cx="1430.6" cy="705.6" r="6.00" fill="#0000ff"/>
<circle cx="1434.9" cy="725.5" r="6.00" fill="#0000ff"/>
<circle cx="1437.8" cy="745.4" r="6.00" fill="#0000ff"/>
<circle cx="1440.7" cy="765.3" r="6.00" fill="#0000ff"/>
<circle cx="1444.2" cy="785.2" r="6.00" fill="#0000ff"/>
<circle cx="1447.1" cy="805.1" r="6.00" fill="#0000ff"/>
<polyline points="1101.5,19.0 1102.0,23.0 1102.5,27.0 1103.0,30.9 1103.5,34.9 1104.2,38.9 1105.0,42.9 1106.5,48.9 1112.0,58.8 1123.5,68.8 1142.0,78.7 1164.0,88.7 1180.0,98.6 1198.0,108.6 1215.0,118.5 1249.0,138.4 1281.0,158.3 1303.2,178.2 1322.9,198.1 1335.2,218.0 1361.1,267.8 1373.4,317.5 1386.2,417.0 1401.5,516.5 1418.0,616.1 1434.0,715.6 1450.0,815.1" fill="none" stroke="#ff0000" stroke-width="8.30" stroke-linejoin="round" stroke-linecap="round"/>
<circle cx="1101.5" cy="19.0" r="6.00" fill="#ff0000"/>
<circle cx="1102.0" cy="23.0" r="6.00" fill="#ff0000"/>
<circle cx="1102.5" cy="27.0" r="6.00" fill="#ff0000"/>
<circle cx="1103.0" cy="30.9" r="6.00" fill="#ff0000"/>
<circle cx="1103.5" cy="34.9" r="6.00" fill="#ff0000"/>
<circle cx="1104.2" cy="38.9" r="6.00" fill="#ff0000"/>
<circle cx="1105.0" cy="42.9" r="6.00" fill="#ff0000"/>
<circle cx="1106.5" cy="48.9" r="6.00" fill="#ff0000"/>
<circle cx="1112.0" cy="58.8" r="6.00" fill="#ff0000"/>
<circle cx="1123.5" cy="68.8" r="6.00" fill="#ff0000"/>
<circle cx="1142.0" cy="78.7" r="6.00" fill="#ff0000"/>
<circle cx="1164.0" cy="88.7" r="6.00" fill="#ff0000"/>
<circle cx="1180.0" cy="98.6" r="6.00" fill="#ff0000"/>
<circle cx="1198.0" cy="108.6" r="6.00" fill="#ff0000"/>
<circle cx="1215.0" cy="118.5" r="6.00" fill="#ff0000"/>
<circle cx="1249.0" cy="138.4" r="6.00" fill="#ff0000"/>
<circle cx="1281.0" cy="158.3" r="6.00" fill="#ff0000"/>
<circle cx="1303.2" cy="178.2" r="6.00" fill="#ff0000"/>
<circle cx="1322.9" cy="198.1" r="6.00" fill="#ff0000"/>
<circle cx="1335.2" cy="218.0" r="6.00" fill="#ff0000"/>
<circle cx="1361.1" cy="267.8" r="6.00" fill="#ff0000"/>
<circle cx="1373.4" cy="317.5" r="6.00" fill="#ff0000"/>
<circle cx="1386.2" cy="417.0" r="6.00" fill="#ff0000"/>
<circle cx="1401.5" cy="516.5" r="6.00" fill="#ff0000"/>
<circle cx="1418.0" cy="616.1" r="6.00" fill="#ff0000"/>
<circle cx="1434.0" cy="715.6" r="6.00" fill="#ff0000"/>
<circle cx="1450.0" cy="815.1" r="6.00" fill="#ff0000"/>
<polyline points="1107.5,19.0 1107.8,23.0 1108.1,27.0 1108.4,30.9 1108.7,34.9 1109.0,38.9 1109.5,42.9 1110.5,48.9 1111.8,58.8 1113.6,68.8 1118.3,78.7 1131.2,88.7 1155.4,98.6 1180.0,108.6 1200.9,118.5 1241.6,138.4 1274.4,158.3 1299.5,178.2 1314.3,198.1 1326.6,218.0 1354.9,267.8 1370.9,317.5 1387.6,417.0 1403.5,516.5 1419.0,616.1 1434.9,715.6 1449.4,815.1" fill="none" stroke="#008000" stroke-width="2.60" stroke-linejoin="round" stroke-linecap="round"/>
<circle cx="1107.5" cy="19.0" r="6.00" fill="#008000"/>
<circle cx="1107.8" cy="23.0" r="6.00" fill="#008000"/>
<circle cx="1108.1" cy="27.0" r="6.00" fill="#008000"/>
<circle cx="1108.4" cy="30.9" r="6.00" fill="#008000"/>
<circle cx="1108.7" cy="34.9" r="6.00" fill="#008000"/>
<circle cx="1109.0" cy="38.9" r="6.00" fill="#008000"/>
<circle cx="1109.5" cy="42.9" r="6.00" fill="#008000"/>
<circle cx="1110.5" cy="48.9" r="6.00" fill="#008000"/>
<circle cx="1111.8" cy="58.8" r="6.00" fill="#008000"/>
<circle cx="1113.6" cy="68.8" r="6.00" fill="#008000"/>
<circle cx="1118.3" cy="78.7" r="6.00" fill="#008000"/>
<circle cx="1131.2" cy="88.7" r="6.00" fill="#008000"/>
<circle cx="1155.4" cy="98.6" r="6.00" fill="#008000"/>
<circle cx="1180.0" cy="108.6" r="6.00" fill="#008000"/>
<circle cx="1200.9" cy="118.5" r="6.00" fill="#008000"/>
<circle cx="1241.6" cy="138.4" r="6.00" fill="#008000"/>
<circle cx="1274.4" cy="158.3" r="6.00" fill="#008000"/>
<circle cx="1299.5" cy="178.2" r="6.00" fill="#008000"/>
<circle cx="1314.3" cy="198.1" r="6.00" fill="#008000"/>
<circle cx="1326.6" cy="218.0" r="6.00" fill="#008000"/>
<circle cx="1354.9" cy="267.8" r="6.00" fill="#008000"/>
<circle cx="1370.9" cy="317.5" r="6.00" fill="#008000"/>
<circle cx="1387.6" cy="417.0" r="6.00" fill="#008000"/>
<circle cx="1403.5" cy="516.5" r="6.00" fill="#008000"/>
<circle cx="1419.0" cy="616.1" r="6.00" fill="#008000"/>
<circle cx="1434.9" cy="715.6" r="6.00" fill="#008000"/>
<circle cx="1449.4" cy="815.1" r="6.00" fill="#008000"/>
<polyline points="1115.3,20.0 1116.5,22.0 1117.5,24.2 1119.0,26.6 1120.5,29.2 1122.0,31.7 1124.0,34.7 1125.5,38.1 1127.0,41.7 1128.5,45.9 1130.5,50.4 1132.5,55.8 1135.0,62.0 1139.5,69.2 1161.3,77.5 1184.8,87.5 1215.5,99.2 1245.4,113.3 1276.8,130.1 1297.8,150.0 1314.3,174.0 1330.3,202.7 1345.6,237.3 1358.6,279.1 1370.9,329.3 1384.0,389.4 1396.8,461.8 1409.9,548.4 1425.7,652.1 1445.0,775.7" fill="none" stroke="#ff00ff" stroke-width="2.20" stroke-linejoin="round" stroke-linecap="round"/>
<circle cx="1115.3" cy="20.0" r="6.00" fill="#ff00ff"/>
<circle cx="1116.5" cy="22.0" r="6.00" fill="#ff00ff"/>
<circle cx="1117.5" cy="24.2" r="6.00" fill="#ff00ff"/>
<circle cx="1119.0" cy="26.6" r="6.00" fill="#ff00ff"/>
<circle cx="1120.5" cy="29.2" r="6.00" fill="#ff00ff"/>
<circle cx="1122.0" cy="31.7" r="6.00" fill="#ff00ff"/>
<circle cx="1124.0" cy="34.7" r="6.00" fill="#ff00ff"/>
<circle cx="1125.5" cy="38.1" r="6.00" fill="#ff00ff"/>
<circle cx="1127.0" cy="41.7" r="6.00" fill="#ff00ff"/>
<circle cx="1128.5" cy="45.9" r="6.00" fill="#ff00ff"/>
<circle cx="1130.5" cy="50.4" r="6.00" fill="#ff00ff"/>
<circle cx="1132.5" cy="55.8" r="6.00" fill="#ff00ff"/>
<circle cx="1135.0" cy="62.0" r="6.00" fill="#ff00ff"/>
<circle cx="1139.5" cy="69.2" r="6.00" fill="#ff00ff"/>
<circle cx="1161.3" cy="77.5" r="6.00" fill="#ff00ff"/>
<circle cx="1184.8" cy="87.5" r="6.00" fill="#ff00ff"/>
<circle cx="1215.5" cy="99.2" r="6.00" fill="#ff00ff"/>
<circle cx="1245.4" cy="113.3" r="6.00" fill="#ff00ff"/>
<circle cx="1276.8" cy="130.1" r="6.00" fill="#ff00ff"/>
<circle cx="1297.8" cy="150.0" r="6.00" fill="#ff00ff"/>
<circle cx="1314.3" cy="174.0" r="6.00" fill="#ff00ff"/>
<circle cx="1330.3" cy="202.7" r="6.00" fill="#ff00ff"/>
<circle cx="1345.6" cy="237.3" r="6.00" fill="#ff00ff"/>
<circle cx="1358.6" cy="279.1" r="6.00" fill="#ff00ff"/>
<circle cx="1370.9" cy="329.3" r="6.00" fill="#ff00ff"/>
<circle cx="1384.0" cy="389.4" r="6.00" fill="#ff00ff"/>
<circle cx="1396.8" cy="461.8" r="6.00" fill="#ff00ff"/>
<circle cx="1409.9" cy="548.4" r="6.00" fill="#ff00ff"/>
<circle cx="1425.7" cy="652.1" r="6.00" fill="#ff00ff"/>
<circle cx="1445.0" cy="775.7" r="6.00" fill="#ff00ff"/>
</g>
<rect x="88.5" y="19.5" width="401.0" height="795.0" fill="none" stroke="#000" stroke-width="1.3"/>
<line x1="110.5" y1="814.5" x2="110.5" y2="820.5" stroke="#000" stroke-width="1.1"/>
<text x="100.1" y="842.3" font-size="17.93" textLength="20.7" lengthAdjust="spacingAndGlyphs">10</text>
<line x1="202.5" y1="814.5" x2="202.5" y2="820.5" stroke="#000" stroke-width="1.1"/>
<text x="192.1" y="842.3" font-size="17.93" textLength="20.7" lengthAdjust="spacingAndGlyphs">15</text>
<line x1="294.5" y1="814.5" x2="294.5" y2="820.5" stroke="#000" stroke-width="1.1"/>
<text x="284.1" y="842.3" font-size="17.93" textLength="20.7" lengthAdjust="spacingAndGlyphs">20</text>
<line x1="387.5" y1="814.5" x2="387.5" y2="820.5" stroke="#000" stroke-width="1.1"/>
<text x="377.1" y="842.3" font-size="17.93" textLength="20.7" lengthAdjust="spacingAndGlyphs">25</text>
<line x1="479.5" y1="814.5" x2="479.5" y2="820.5" stroke="#000" stroke-width="1.1"/>
<text x="469.1" y="842.3" font-size="17.93" textLength="20.7" lengthAdjust="spacingAndGlyphs">30</text>
<line x1="82.3" y1="19.5" x2="88.5" y2="19.5" stroke="#000" stroke-width="1.1"/>
<text x="64.4" y="27.3" font-size="17.82" textLength="10.3" lengthAdjust="spacingAndGlyphs">0</text>
<line x1="82.3" y1="68.5" x2="88.5" y2="68.5" stroke="#000" stroke-width="1.1"/>
<text x="54.1" y="76.3" font-size="17.82" textLength="20.6" lengthAdjust="spacingAndGlyphs">25</text>
<line x1="82.3" y1="118.5" x2="88.5" y2="118.5" stroke="#000" stroke-width="1.1"/>
<text x="54.1" y="126.3" font-size="17.82" textLength="20.6" lengthAdjust="spacingAndGlyphs">50</text>
<line x1="82.3" y1="168.5" x2="88.5" y2="168.5" stroke="#000" stroke-width="1.1"/>
<text x="54.1" y="176.3" font-size="17.82" textLength="20.6" lengthAdjust="spacingAndGlyphs">75</text>
<line x1="82.3" y1="218.5" x2="88.5" y2="218.5" stroke="#000" stroke-width="1.1"/>
<text x="43.8" y="226.3" font-size="17.82" textLength="30.9" lengthAdjust="spacingAndGlyphs">100</text>
<line x1="82.3" y1="267.5" x2="88.5" y2="267.5" stroke="#000" stroke-width="1.1"/>
<text x="43.8" y="275.3" font-size="17.82" textLength="30.9" lengthAdjust="spacingAndGlyphs">125</text>
<line x1="82.3" y1="317.5" x2="88.5" y2="317.5" stroke="#000" stroke-width="1.1"/>
<text x="43.8" y="325.3" font-size="17.82" textLength="30.9" lengthAdjust="spacingAndGlyphs">150</text>
<line x1="82.3" y1="367.5" x2="88.5" y2="367.5" stroke="#000" stroke-width="1.1"/>
<text x="43.8" y="375.3" font-size="17.82" textLength="30.9" lengthAdjust="spacingAndGlyphs">175</text>
<line x1="82.3" y1="417.5" x2="88.5" y2="417.5" stroke="#000" stroke-width="1.1"/>
<text x="43.8" y="425.3" font-size="17.82" textLength="30.9" lengthAdjust="spacingAndGlyphs">200</text>
<line x1="82.3" y1="466.5" x2="88.5" y2="466.5" stroke="#000" stroke-width="1.1"/>
<text x="43.8" y="474.3" font-size="17.82" textLength="30.9" lengthAdjust="spacingAndGlyphs">225</text>
<line x1="82.3" y1="516.5" x2="88.5" y2="516.5" stroke="#000" stroke-width="1.1"/>
<text x="43.8" y="524.3" font-size="17.82" textLength="30.9" lengthAdjust="spacingAndGlyphs">250</text>
<line x1="82.3" y1="566.5" x2="88.5" y2="566.5" stroke="#000" stroke-width="1.1"/>
<text x="43.8" y="574.3" font-size="17.82" textLength="30.9" lengthAdjust="spacingAndGlyphs">275</text>
<line x1="82.3" y1="616.5" x2="88.5" y2="616.5" stroke="#000" stroke-width="1.1"/>
<text x="43.8" y="624.3" font-size="17.82" textLength="30.9" lengthAdjust="spacingAndGlyphs">300</text>
<line x1="82.3" y1="665.5" x2="88.5" y2="665.5" stroke="#000" stroke-width="1.1"/>
<text x="43.8" y="673.3" font-size="17.82" textLength="30.9" lengthAdjust="spacingAndGlyphs">325</text>
<line x1="82.3" y1="715.5" x2="88.5" y2="715.5" stroke="#000" stroke-width="1.1"/>
<text x="43.8" y="723.3" font-size="17.82" textLength="30.9" lengthAdjust="spacingAndGlyphs">350</text>
<line x1="82.3" y1="765.5" x2="88.5" y2="765.5" stroke="#000" stroke-width="1.1"/>
<text x="43.8" y="773.3" font-size="17.82" textLength="30.9" lengthAdjust="spacingAndGlyphs">375</text>
<rect x="580.5" y="19.5" width="402.0" height="795.0" fill="none" stroke="#000" stroke-width="1.3"/>
<line x1="602.5" y1="814.5" x2="602.5" y2="820.5" stroke="#000" stroke-width="1.1"/>
<text x="584.4" y="842.3" font-size="17.93" textLength="36.3" lengthAdjust="spacingAndGlyphs">34.0</text>
<line x1="664.5" y1="814.5" x2="664.5" y2="820.5" stroke="#000" stroke-width="1.1"/>
<text x="646.4" y="842.3" font-size="17.93" textLength="36.3" lengthAdjust="spacingAndGlyphs">34.2</text>
<line x1="726.5" y1="814.5" x2="726.5" y2="820.5" stroke="#000" stroke-width="1.1"/>
<text x="708.4" y="842.3" font-size="17.93" textLength="36.3" lengthAdjust="spacingAndGlyphs">34.4</text>
<line x1="788.5" y1="814.5" x2="788.5" y2="820.5" stroke="#000" stroke-width="1.1"/>
<text x="770.4" y="842.3" font-size="17.93" textLength="36.3" lengthAdjust="spacingAndGlyphs">34.6</text>
<line x1="850.5" y1="814.5" x2="850.5" y2="820.5" stroke="#000" stroke-width="1.1"/>
<text x="832.4" y="842.3" font-size="17.93" textLength="36.3" lengthAdjust="spacingAndGlyphs">34.8</text>
<line x1="912.5" y1="814.5" x2="912.5" y2="820.5" stroke="#000" stroke-width="1.1"/>
<text x="894.4" y="842.3" font-size="17.93" textLength="36.3" lengthAdjust="spacingAndGlyphs">35.0</text>
<line x1="974.5" y1="814.5" x2="974.5" y2="820.5" stroke="#000" stroke-width="1.1"/>
<text x="956.4" y="842.3" font-size="17.93" textLength="36.3" lengthAdjust="spacingAndGlyphs">35.2</text>
<line x1="574.3" y1="19.5" x2="580.5" y2="19.5" stroke="#000" stroke-width="1.1"/>
<line x1="574.3" y1="68.5" x2="580.5" y2="68.5" stroke="#000" stroke-width="1.1"/>
<line x1="574.3" y1="118.5" x2="580.5" y2="118.5" stroke="#000" stroke-width="1.1"/>
<line x1="574.3" y1="168.5" x2="580.5" y2="168.5" stroke="#000" stroke-width="1.1"/>
<line x1="574.3" y1="218.5" x2="580.5" y2="218.5" stroke="#000" stroke-width="1.1"/>
<line x1="574.3" y1="267.5" x2="580.5" y2="267.5" stroke="#000" stroke-width="1.1"/>
<line x1="574.3" y1="317.5" x2="580.5" y2="317.5" stroke="#000" stroke-width="1.1"/>
<line x1="574.3" y1="367.5" x2="580.5" y2="367.5" stroke="#000" stroke-width="1.1"/>
<line x1="574.3" y1="417.5" x2="580.5" y2="417.5" stroke="#000" stroke-width="1.1"/>
<line x1="574.3" y1="466.5" x2="580.5" y2="466.5" stroke="#000" stroke-width="1.1"/>
<line x1="574.3" y1="516.5" x2="580.5" y2="516.5" stroke="#000" stroke-width="1.1"/>
<line x1="574.3" y1="566.5" x2="580.5" y2="566.5" stroke="#000" stroke-width="1.1"/>
<line x1="574.3" y1="616.5" x2="580.5" y2="616.5" stroke="#000" stroke-width="1.1"/>
<line x1="574.3" y1="665.5" x2="580.5" y2="665.5" stroke="#000" stroke-width="1.1"/>
<line x1="574.3" y1="715.5" x2="580.5" y2="715.5" stroke="#000" stroke-width="1.1"/>
<line x1="574.3" y1="765.5" x2="580.5" y2="765.5" stroke="#000" stroke-width="1.1"/>
<rect x="1072.5" y="19.5" width="402.0" height="795.0" fill="none" stroke="#000" stroke-width="1.3"/>
<line x1="1131.5" y1="814.5" x2="1131.5" y2="820.5" stroke="#000" stroke-width="1.1"/>
<g transform="translate(1130.2,850.5) rotate(-45)">
<text x="-22.4" y="6.3" font-size="19.36" textLength="44.8" lengthAdjust="spacingAndGlyphs">1022</text>
</g>
<line x1="1227.5" y1="814.5" x2="1227.5" y2="820.5" stroke="#000" stroke-width="1.1"/>
<g transform="translate(1226.5,850.5) rotate(-45)">
<text x="-22.4" y="6.3" font-size="19.36" textLength="44.8" lengthAdjust="spacingAndGlyphs">1024</text>
</g>
<line x1="1324.5" y1="814.5" x2="1324.5" y2="820.5" stroke="#000" stroke-width="1.1"/>
<g transform="translate(1322.9,850.5) rotate(-45)">
<text x="-22.4" y="6.3" font-size="19.36" textLength="44.8" lengthAdjust="spacingAndGlyphs">1026</text>
</g>
<line x1="1420.5" y1="814.5" x2="1420.5" y2="820.5" stroke="#000" stroke-width="1.1"/>
<g transform="translate(1419.2,850.5) rotate(-45)">
<text x="-22.4" y="6.3" font-size="19.36" textLength="44.8" lengthAdjust="spacingAndGlyphs">1028</text>
</g>
<line x1="1066.3" y1="19.5" x2="1072.5" y2="19.5" stroke="#000" stroke-width="1.1"/>
<line x1="1066.3" y1="68.5" x2="1072.5" y2="68.5" stroke="#000" stroke-width="1.1"/>
<line x1="1066.3" y1="118.5" x2="1072.5" y2="118.5" stroke="#000" stroke-width="1.1"/>
<line x1="1066.3" y1="168.5" x2="1072.5" y2="168.5" stroke="#000" stroke-width="1.1"/>
<line x1="1066.3" y1="218.5" x2="1072.5" y2="218.5" stroke="#000" stroke-width="1.1"/>
<line x1="1066.3" y1="267.5" x2="1072.5" y2="267.5" stroke="#000" stroke-width="1.1"/>
<line x1="1066.3" y1="317.5" x2="1072.5" y2="317.5" stroke="#000" stroke-width="1.1"/>
<line x1="1066.3" y1="367.5" x2="1072.5" y2="367.5" stroke="#000" stroke-width="1.1"/>
<line x1="1066.3" y1="417.5" x2="1072.5" y2="417.5" stroke="#000" stroke-width="1.1"/>
<line x1="1066.3" y1="466.5" x2="1072.5" y2="466.5" stroke="#000" stroke-width="1.1"/>
<line x1="1066.3" y1="516.5" x2="1072.5" y2="516.5" stroke="#000" stroke-width="1.1"/>
<line x1="1066.3" y1="566.5" x2="1072.5" y2="566.5" stroke="#000" stroke-width="1.1"/>
<line x1="1066.3" y1="616.5" x2="1072.5" y2="616.5" stroke="#000" stroke-width="1.1"/>
<line x1="1066.3" y1="665.5" x2="1072.5" y2="665.5" stroke="#000" stroke-width="1.1"/>
<line x1="1066.3" y1="715.5" x2="1072.5" y2="715.5" stroke="#000" stroke-width="1.1"/>
<line x1="1066.3" y1="765.5" x2="1072.5" y2="765.5" stroke="#000" stroke-width="1.1"/>
<g transform="translate(30.3,418.3) rotate(-90)">
<text x="-63.5" y="0.0" font-size="24.42" font-weight="bold" textLength="75.8" lengthAdjust="spacingAndGlyphs">Depth</text>
<text x="20.0" y="0.0" font-size="24.42" font-weight="bold" textLength="43.4" lengthAdjust="spacingAndGlyphs">(m)</text>
</g>
<text x="178.5" y="871.7" font-size="24.97" font-weight="bold" textLength="163.3" lengthAdjust="spacingAndGlyphs">Temperature</text>
<text x="349.7" y="871.7" font-size="24.97" font-weight="bold" textLength="10.4" lengthAdjust="spacingAndGlyphs">(</text>
<text x="362.0" y="862.0" font-size="16.06" font-style="italic" textLength="8.9" lengthAdjust="spacingAndGlyphs">o</text>
<text x="372.5" y="871.7" font-size="24.75" font-style="italic" textLength="15.7" lengthAdjust="spacingAndGlyphs">C</text>
<text x="388.3" y="871.7" font-size="24.97" font-weight="bold" textLength="10.4" lengthAdjust="spacingAndGlyphs">)</text>
<text x="734.1" y="870.2" font-size="24.42" font-weight="bold" textLength="94.7" lengthAdjust="spacingAndGlyphs">Salinity</text>
<text x="1166.7" y="895.6" font-size="24.75" font-weight="bold" textLength="96.5" lengthAdjust="spacingAndGlyphs">Density</text>
<text x="1271.0" y="895.6" font-size="24.75" font-weight="bold" textLength="41.4" lengthAdjust="spacingAndGlyphs">(kg</text>
<text x="1320.2" y="895.6" font-size="24.75" font-weight="bold" textLength="58.7" lengthAdjust="spacingAndGlyphs">m-3)</text>
<text x="1524.6" y="36.9" font-size="24.64" font-weight="bold" textLength="149.7" lengthAdjust="spacingAndGlyphs">Comparison</text>
<text x="1682.1" y="36.9" font-size="24.64" font-weight="bold" textLength="68.6" lengthAdjust="spacingAndGlyphs">Date:</text>
<text x="1758.5" y="36.9" font-size="24.64" font-weight="bold" textLength="143.3" lengthAdjust="spacingAndGlyphs">2024-10-02</text>
<text x="1524.6" y="89.9" font-size="24.64" font-weight="bold" textLength="85.0" lengthAdjust="spacingAndGlyphs">Glider:</text>
<text x="1617.4" y="89.9" font-size="24.64" font-weight="bold" textLength="76.1" lengthAdjust="spacingAndGlyphs">sg652</text>
<text x="1524.6" y="116.3" font-size="24.64" font-weight="bold" textLength="104.6" lengthAdjust="spacingAndGlyphs">Profiles:</text>
<text x="1637.0" y="116.3" font-size="24.64" font-weight="bold" textLength="15.6" lengthAdjust="spacingAndGlyphs">5</text>
<text x="1524.6" y="142.8" font-size="24.64" font-weight="bold" textLength="67.0" lengthAdjust="spacingAndGlyphs">First:</text>
<text x="1599.4" y="142.8" font-size="24.64" font-weight="bold" textLength="143.3" lengthAdjust="spacingAndGlyphs">2024-10-02</text>
<text x="1750.5" y="142.8" font-size="24.64" font-weight="bold" textLength="111.4" lengthAdjust="spacingAndGlyphs">00:01:05</text>
<text x="1524.6" y="169.4" font-size="24.64" font-weight="bold" textLength="62.4" lengthAdjust="spacingAndGlyphs">Last:</text>
<text x="1594.8" y="169.4" font-size="24.64" font-weight="bold" textLength="143.3" lengthAdjust="spacingAndGlyphs">2024-10-02</text>
<text x="1745.9" y="169.4" font-size="24.64" font-weight="bold" textLength="111.4" lengthAdjust="spacingAndGlyphs">08:48:53</text>
<text x="1524.6" y="196.1" font-size="24.64" font-weight="bold" textLength="104.5" lengthAdjust="spacingAndGlyphs">Method:</text>
<text x="1636.9" y="196.1" font-size="24.64" font-weight="bold" textLength="224.7" lengthAdjust="spacingAndGlyphs">Nearest-Neighbor</text>
<defs><clipPath id="mapclip"><rect x="1579.6" y="239.3" width="371.4" height="354.5"/></clipPath></defs>
<g clip-path="url(#mapclip)">
<rect x="1579.6" y="239.3" width="371.4" height="354.5" fill="#6495ed"/>
<rect x="1579.6" y="239.3" width="112.4" height="9.7" fill="#98b6e4"/>
<polygon points="1648.0,249.0 1690.0,249.0 1692.0,262.0 1696.0,276.0 1690.0,279.0 1680.0,276.0 1668.0,268.0 1658.0,259.0" fill="#86a9e8"/>
<polygon points="1684.0,248.0 1686.0,262.0 1692.0,280.0 1697.0,300.0 1706.0,311.0 1711.0,320.0 1719.3,330.7 1732.1,341.4 1737.5,352.1 1745.0,362.8 1750.3,373.5 1758.9,384.3 1769.6,392.8 1780.3,397.8 1793.2,398.5 1796.0,392.0 1793.0,384.0 1792.1,390.7 1786.7,396.0 1784.6,395.0 1781.4,388.5 1775.0,382.1 1768.5,377.8 1760.0,372.5 1756.8,368.2 1757.8,360.7 1756.8,354.3 1753.5,348.9 1746.1,344.6 1742.8,340.3 1735.3,339.3 1727.8,333.9 1723.5,331.5 1719.5,328.5 1716.5,325.5 1718.0,324.8 1723.0,326.3 1729.0,326.8 1733.2,326.5 1732.1,321.6 1730.5,316.3 1725.7,309.9 1720.3,304.5 1712.8,299.2 1710.1,296.0 1708.5,288.5 1705.3,281.0 1702.1,274.5 1698.9,268.1 1695.7,261.7 1693.0,256.9 1691.4,253.1 1689.8,246.7 1686.1,242.4 1681.8,239.2" fill="#98b6e4"/>
<polygon points="1791.0,386.4 1787.8,382.1 1786.7,377.5 1781.4,377.8 1777.1,373.5 1775.0,366.0 1770.7,358.6 1766.4,352.1 1762.1,343.6 1757.8,337.1 1752.5,330.7 1748.5,322.5 1746.0,315.2 1740.6,310.9 1736.4,304.5 1731.0,299.2 1725.7,293.8 1723.5,284.2 1720.3,275.6 1721.4,267.0 1726.7,268.1 1733.2,270.3 1738.5,274.5 1744.9,276.7 1744.9,281.0 1748.1,289.5 1752.4,298.1 1755.6,305.6 1759.9,310.9 1764.2,317.4 1768.5,321.6 1772.0,324.5 1777.1,326.4 1778.2,332.9 1784.6,337.1 1791.0,343.6 1795.3,348.9 1792.1,354.3 1799.6,359.6 1807.1,363.9 1811.4,369.3 1817.8,374.6 1824.2,382.1 1830.7,390.7 1838.2,399.3 1841.0,406.4" fill="#98b6e4"/>
<polygon points="1751.5,320.5 1755.5,328.5 1760.8,335.0 1765.0,341.5 1769.4,350.0 1773.7,356.5 1778.0,364.0 1780.0,371.5 1784.0,375.5 1789.0,375.5 1793.0,379.0 1797.0,386.0 1800.0,393.0 1826.0,400.0 1824.7,396.7 1818.2,388.1 1811.8,380.6 1805.4,375.3 1801.1,369.9 1793.6,365.6 1786.1,360.3 1789.3,354.9 1785.0,349.6 1778.6,343.1 1772.2,338.9 1771.1,332.4 1766.0,330.5 1762.5,327.6 1758.2,323.4 1755.0,319.0" fill="#6495ed"/>
<polygon points="1793.2,360.7 1801.7,370.3 1803.9,380.0 1814.6,388.5 1817.8,399.3 1825.3,405.7 1827.0,414.0 1834.6,424.6 1840.0,437.5 1847.5,446.0 1852.8,453.5 1866.7,460.0 1878.5,466.4 1891.4,469.6 1904.2,477.1 1917.1,482.4 1927.8,485.7 1938.5,490.0 1952.0,493.5 1951.3,491.5 1941.7,489.9 1934.2,485.7 1927.8,481.9 1917.1,479.8 1912.8,478.2 1899.9,472.8 1891.4,466.4 1887.1,463.2 1876.4,461.0 1867.8,457.8 1864.6,452.5 1857.1,447.1 1848.5,442.8 1842.1,435.3 1840.0,430.0 1845.3,427.8 1842.1,425.7 1845.3,421.4 1845.9,415.0 1842.1,410.7 1841.0,406.4 1838.2,399.3 1830.7,390.7 1824.2,382.1 1817.8,374.6 1811.4,369.3 1807.1,363.9 1799.6,359.6 1792.1,354.3 1795.3,348.9 1791.0,343.6 1784.6,337.1 1778.2,332.9 1777.1,326.4 1772.0,324.5 1768.5,321.6 1764.2,317.4 1759.9,310.9 1755.6,305.6" fill="#98b6e4"/>
<polygon points="1681.8,239.2 1686.1,242.4 1689.8,246.7 1691.4,253.1 1693.0,256.9 1695.7,261.7 1698.9,268.1 1702.1,274.5 1705.3,281.0 1708.5,288.5 1710.1,296.0 1712.8,299.2 1720.3,304.5 1725.7,309.9 1730.5,316.3 1732.1,321.6 1733.2,326.5 1729.0,326.8 1723.0,326.3 1718.0,324.8 1716.5,325.5 1719.5,328.5 1723.5,331.5 1727.8,333.9 1735.3,339.3 1742.8,340.3 1746.1,344.6 1753.5,348.9 1756.8,354.3 1757.8,360.7 1756.8,368.2 1760.0,372.5 1768.5,377.8 1775.0,382.1 1781.4,388.5 1784.6,395.0 1786.7,396.0 1792.1,390.7 1791.0,386.4 1787.8,382.1 1786.7,377.5 1781.4,377.8 1777.1,373.5 1775.0,366.0 1770.7,358.6 1766.4,352.1 1762.1,343.6 1757.8,337.1 1752.5,330.7 1748.5,322.5 1746.0,315.2 1740.6,310.9 1736.4,304.5 1731.0,299.2 1725.7,293.8 1723.5,284.2 1720.3,275.6 1721.4,267.0 1726.7,268.1 1733.2,270.3 1738.5,274.5 1744.9,276.7 1744.9,281.0 1748.1,289.5 1752.4,298.1 1755.6,305.6 1759.9,310.9 1764.2,317.4 1768.5,321.6 1772.0,324.5 1777.1,326.4 1778.2,332.9 1784.6,337.1 1791.0,343.6 1795.3,348.9 1792.1,354.3 1799.6,359.6 1807.1,363.9 1811.4,369.3 1817.8,374.6 1824.2,382.1 1830.7,390.7 1838.2,399.3 1841.0,406.4 1842.1,410.7 1845.9,415.0 1845.3,421.4 1842.1,425.7 1845.3,427.8 1840.0,430.0 1842.1,435.3 1848.5,442.8 1857.1,447.1 1864.6,452.5 1867.8,457.8 1876.4,461.0 1887.1,463.2 1891.4,466.4 1899.9,472.8 1912.8,478.2 1917.1,479.8 1927.8,481.9 1934.2,485.7 1941.7,489.9 1951.3,491.5 1953.0,491.5 1953.0,237.0 1681.8,237.0" fill="#d2b48c" stroke="none"/>
<polygon points="1952.0,318.0 1949.0,320.5 1944.5,326.0 1942.2,332.7 1945.6,341.7 1947.9,353.0 1942.2,359.7 1940.0,371.0 1940.0,393.5 1941.1,407.0 1944.5,416.0 1952.0,431.0" fill="#98b6e4" stroke="none"/>
<polygon points="1942.5,331 1946,324 1948.5,330 1947,342 1944.5,344" fill="#3a4e72"/>
<polygon points="1941,362 1944.5,358 1945,372 1943,396 1941.5,404 1940.5,385" fill="#3a4e72"/>
<polyline points="1681.8,239.2 1686.1,242.4 1689.8,246.7 1691.4,253.1 1693.0,256.9 1695.7,261.7 1698.9,268.1 1702.1,274.5 1705.3,281.0 1708.5,288.5 1710.1,296.0 1712.8,299.2 1720.3,304.5 1725.7,309.9 1730.5,316.3 1732.1,321.6 1733.2,326.5 1729.0,326.8 1723.0,326.3 1718.0,324.8 1716.5,325.5 1719.5,328.5 1723.5,331.5 1727.8,333.9 1735.3,339.3 1742.8,340.3 1746.1,344.6 1753.5,348.9 1756.8,354.3 1757.8,360.7 1756.8,368.2 1760.0,372.5 1768.5,377.8 1775.0,382.1 1781.4,388.5 1784.6,395.0 1786.7,396.0 1792.1,390.7 1791.0,386.4 1787.8,382.1 1786.7,377.5 1781.4,377.8 1777.1,373.5 1775.0,366.0 1770.7,358.6 1766.4,352.1 1762.1,343.6 1757.8,337.1 1752.5,330.7 1748.5,322.5 1746.0,315.2 1740.6,310.9 1736.4,304.5 1731.0,299.2 1725.7,293.8 1723.5,284.2 1720.3,275.6 1721.4,267.0" fill="none" stroke="#000" stroke-width="2.40" stroke-linejoin="round" stroke-linecap="round"/>
<polyline points="1721.4,267.0 1726.7,268.1 1733.2,270.3 1738.5,274.5 1744.9,276.7 1744.9,281.0 1748.1,289.5 1752.4,298.1 1755.6,305.6 1759.9,310.9 1764.2,317.4 1768.5,321.6 1772.0,324.5 1777.1,326.4 1778.2,332.9 1784.6,337.1 1791.0,343.6 1795.3,348.9 1792.1,354.3 1799.6,359.6 1807.1,363.9 1811.4,369.3 1817.8,374.6 1824.2,382.1 1830.7,390.7 1838.2,399.3 1841.0,406.4 1842.1,410.7 1845.9,415.0 1845.3,421.4 1842.1,425.7 1845.3,427.8 1840.0,430.0 1842.1,435.3 1848.5,442.8 1857.1,447.1 1864.6,452.5 1867.8,457.8 1876.4,461.0 1887.1,463.2 1891.4,466.4 1899.9,472.8 1912.8,478.2 1917.1,479.8 1927.8,481.9 1934.2,485.7 1941.7,489.9 1951.3,491.5" fill="none" stroke="#000" stroke-width="2.40" stroke-linejoin="round" stroke-linecap="round"/>
<polyline points="1952.0,318.0 1949.0,320.5 1944.5,326.0 1942.2,332.7 1945.6,341.7 1947.9,353.0 1942.2,359.7 1940.0,371.0 1940.0,393.5 1941.1,407.0 1944.5,416.0 1952.0,431.0" fill="none" stroke="#000" stroke-width="2.40" stroke-linejoin="round" stroke-linecap="round"/>
<polyline points="1724.5,257.5 1722.0,262.0 1723.0,266.0" fill="none" stroke="#8fb1e0" stroke-width="1.60" stroke-linejoin="round" stroke-linecap="round"/>
<polyline points="1727.0,254.0 1740.0,249.0 1750.0,247.0 1755.0,250.0 1760.0,247.0 1775.0,248.0 1788.0,245.0 1795.0,248.0 1800.0,244.0 1808.0,242.0 1812.0,239.0" fill="none" stroke="#8fb1e0" stroke-width="1.60" stroke-linejoin="round" stroke-linecap="round"/>
<polyline points="1820.0,239.0 1818.0,250.0 1826.8,266.6" fill="none" stroke="#8fb1e0" stroke-width="1.60" stroke-linejoin="round" stroke-linecap="round"/>
<polyline points="1891.6,241.6 1906.2,250.6 1915.2,241.6 1922.0,240.5 1935.5,251.7 1950.1,272.0" fill="none" stroke="#8fb1e0" stroke-width="1.60" stroke-linejoin="round" stroke-linecap="round"/>
<polyline points="1908.5,407.0 1915.0,412.0 1924.2,413.7 1932.0,409.0 1940.0,404.7" fill="none" stroke="#8fb1e0" stroke-width="1.60" stroke-linejoin="round" stroke-linecap="round"/>
<polyline points="1844.5,413.0 1852.0,411.0 1857.0,418.0 1865.0,424.0 1868.0,422.7 1872.0,430.0 1877.0,432.8" fill="none" stroke="#8fb1e0" stroke-width="1.60" stroke-linejoin="round" stroke-linecap="round"/>
<polyline points="1826.8,266.6 1840.0,276.0 1851.2,284.9 1854.5,299.0 1871.4,309.1 1878.1,299.0 1883.7,296.7 1895.0,299.0 1904.0,308.0 1917.5,328.2 1924.2,346.2 1940.0,351.9 1949.0,353.0" fill="none" stroke="#8fb1e0" stroke-width="1.60" stroke-linejoin="round" stroke-linecap="round"/>
<polyline points="1826.8,266.6 1840.0,276.0 1851.2,284.9 1854.5,299.0 1871.4,309.1 1878.1,299.0 1883.7,296.7 1895.0,299.0 1904.0,308.0 1917.5,328.2 1924.2,346.2 1940.0,351.9 1949.0,353.0" fill="none" stroke="#000" stroke-width="1.90" stroke-linejoin="round" stroke-linecap="round" stroke-dasharray="4.6,2.6"/>
<polyline points="1692.5,256.6 1725.5,253.5" fill="none" stroke="#000" stroke-width="1.90" stroke-linejoin="round" stroke-linecap="round" stroke-dasharray="4.6,2.6"/>
<polyline points="1723.0,257.0 1769.8,274.7 1796.3,274.7 1807.5,273.7 1807.5,268.6 1826.8,266.6" fill="none" stroke="#000" stroke-width="1.90" stroke-linejoin="round" stroke-linecap="round" stroke-dasharray="4.6,2.6"/>
<polyline points="1725.5,239.0 1724.0,244.0 1726.0,249.0 1725.5,253.5" fill="none" stroke="#000" stroke-width="1.30" stroke-linejoin="round" stroke-linecap="round"/>
<polyline points="1796.3,239.0 1796.3,274.7" fill="none" stroke="#000" stroke-width="1.30" stroke-linejoin="round" stroke-linecap="round"/>
<polyline points="1807.5,265.2 1873.6,264.8 1873.6,239.0" fill="none" stroke="#000" stroke-width="1.30" stroke-linejoin="round" stroke-linecap="round"/>
<ellipse cx="1674.3" cy="243.5" rx="1.6" ry="1.2" fill="#000"/>
<ellipse cx="1676.0" cy="248.0" rx="1.0" ry="1.8" fill="#000"/>
<ellipse cx="1677.5" cy="308.8" rx="1.6" ry="2.4" fill="#000"/>
<ellipse cx="1716.0" cy="318.5" rx="1.6" ry="1.5" fill="#000"/>
<ellipse cx="1771.8" cy="451.8" rx="1.7" ry="1.6" fill="#000"/>
<ellipse cx="1774.2" cy="444.8" rx="0.8" ry="0.8" fill="#000"/>
<ellipse cx="1749.0" cy="325.0" rx="2.2" ry="3.0" fill="#000"/>
<ellipse cx="1753.0" cy="357.0" rx="1.0" ry="1.0" fill="#000"/>
<ellipse cx="1720.5" cy="269.0" rx="1.0" ry="1.2" fill="#000"/>
<ellipse cx="1829.5" cy="414.5" rx="3.6" ry="1.3" transform="rotate(40 1829.5 414.5)" fill="#000"/>
</g>
<circle cx="1831.4" cy="452.4" r="4.6" fill="#ff0000" stroke="#000" stroke-width="1.2"/>
<rect x="1579.6" y="239.3" width="371.4" height="354.5" fill="none" stroke="#000" stroke-width="1.3"/>
<line x1="1579.6" y1="239.3" x2="1579.6" y2="230.8" stroke="#000" stroke-width="2.8"/>
<line x1="1579.6" y1="593.8" x2="1579.6" y2="602.3" stroke="#000" stroke-width="2.8"/>
<line x1="1592.4" y1="239.3" x2="1592.4" y2="235.9" stroke="#000" stroke-width="1.8"/>
<line x1="1592.4" y1="593.8" x2="1592.4" y2="597.2" stroke="#000" stroke-width="1.8"/>
<line x1="1605.2" y1="239.3" x2="1605.2" y2="235.9" stroke="#000" stroke-width="1.8"/>
<line x1="1605.2" y1="593.8" x2="1605.2" y2="597.2" stroke="#000" stroke-width="1.8"/>
<line x1="1618.0" y1="239.3" x2="1618.0" y2="230.8" stroke="#000" stroke-width="2.8"/>
<line x1="1618.0" y1="593.8" x2="1618.0" y2="602.3" stroke="#000" stroke-width="2.8"/>
<line x1="1630.8" y1="239.3" x2="1630.8" y2="235.9" stroke="#000" stroke-width="1.8"/>
<line x1="1630.8" y1="593.8" x2="1630.8" y2="597.2" stroke="#000" stroke-width="1.8"/>
<line x1="1643.6" y1="239.3" x2="1643.6" y2="235.9" stroke="#000" stroke-width="1.8"/>
<line x1="1643.6" y1="593.8" x2="1643.6" y2="597.2" stroke="#000" stroke-width="1.8"/>
<line x1="1656.4" y1="239.3" x2="1656.4" y2="230.8" stroke="#000" stroke-width="2.8"/>
<line x1="1656.4" y1="593.8" x2="1656.4" y2="602.3" stroke="#000" stroke-width="2.8"/>
<line x1="1669.2" y1="239.3" x2="1669.2" y2="235.9" stroke="#000" stroke-width="1.8"/>
<line x1="1669.2" y1="593.8" x2="1669.2" y2="597.2" stroke="#000" stroke-width="1.8"/>
<line x1="1682.0" y1="239.3" x2="1682.0" y2="235.9" stroke="#000" stroke-width="1.8"/>
<line x1="1682.0" y1="593.8" x2="1682.0" y2="597.2" stroke="#000" stroke-width="1.8"/>
<line x1="1694.8" y1="239.3" x2="1694.8" y2="230.8" stroke="#000" stroke-width="2.8"/>
<line x1="1694.8" y1="593.8" x2="1694.8" y2="602.3" stroke="#000" stroke-width="2.8"/>
<line x1="1707.6" y1="239.3" x2="1707.6" y2="235.9" stroke="#000" stroke-width="1.8"/>
<line x1="1707.6" y1="593.8" x2="1707.6" y2="597.2" stroke="#000" stroke-width="1.8"/>
<line x1="1720.4" y1="239.3" x2="1720.4" y2="235.9" stroke="#000" stroke-width="1.8"/>
<line x1="1720.4" y1="593.8" x2="1720.4" y2="597.2" stroke="#000" stroke-width="1.8"/>
<line x1="1733.2" y1="239.3" x2="1733.2" y2="230.8" stroke="#000" stroke-width="2.8"/>
<line x1="1733.2" y1="593.8" x2="1733.2" y2="602.3" stroke="#000" stroke-width="2.8"/>
<line x1="1746.0" y1="239.3" x2="1746.0" y2="235.9" stroke="#000" stroke-width="1.8"/>
<line x1="1746.0" y1="593.8" x2="1746.0" y2="597.2" stroke="#000" stroke-width="1.8"/>
<line x1="1758.8" y1="239.3" x2="1758.8" y2="235.9" stroke="#000" stroke-width="1.8"/>
<line x1="1758.8" y1="593.8" x2="1758.8" y2="597.2" stroke="#000" stroke-width="1.8"/>
<line x1="1771.6" y1="239.3" x2="1771.6" y2="230.8" stroke="#000" stroke-width="2.8"/>
<line x1="1771.6" y1="593.8" x2="1771.6" y2="602.3" stroke="#000" stroke-width="2.8"/>
<line x1="1784.4" y1="239.3" x2="1784.4" y2="235.9" stroke="#000" stroke-width="1.8"/>
<line x1="1784.4" y1="593.8" x2="1784.4" y2="597.2" stroke="#000" stroke-width="1.8"/>
<line x1="1797.2" y1="239.3" x2="1797.2" y2="235.9" stroke="#000" stroke-width="1.8"/>
<line x1="1797.2" y1="593.8" x2="1797.2" y2="597.2" stroke="#000" stroke-width="1.8"/>
<line x1="1810.0" y1="239.3" x2="1810.0" y2="230.8" stroke="#000" stroke-width="2.8"/>
<line x1="1810.0" y1="593.8" x2="1810.0" y2="602.3" stroke="#000" stroke-width="2.8"/>
<line x1="1822.8" y1="239.3" x2="1822.8" y2="235.9" stroke="#000" stroke-width="1.8"/>
<line x1="1822.8" y1="593.8" x2="1822.8" y2="597.2" stroke="#000" stroke-width="1.8"/>
<line x1="1835.6" y1="239.3" x2="1835.6" y2="235.9" stroke="#000" stroke-width="1.8"/>
<line x1="1835.6" y1="593.8" x2="1835.6" y2="597.2" stroke="#000" stroke-width="1.8"/>
<line x1="1848.4" y1="239.3" x2="1848.4" y2="230.8" stroke="#000" stroke-width="2.8"/>
<line x1="1848.4" y1="593.8" x2="1848.4" y2="602.3" stroke="#000" stroke-width="2.8"/>
<line x1="1861.2" y1="239.3" x2="1861.2" y2="235.9" stroke="#000" stroke-width="1.8"/>
<line x1="1861.2" y1="593.8" x2="1861.2" y2="597.2" stroke="#000" stroke-width="1.8"/>
<line x1="1874.0" y1="239.3" x2="1874.0" y2="235.9" stroke="#000" stroke-width="1.8"/>
<line x1="1874.0" y1="593.8" x2="1874.0" y2="597.2" stroke="#000" stroke-width="1.8"/>
<line x1="1886.8" y1="239.3" x2="1886.8" y2="230.8" stroke="#000" stroke-width="2.8"/>
<line x1="1886.8" y1="593.8" x2="1886.8" y2="602.3" stroke="#000" stroke-width="2.8"/>
<line x1="1899.6" y1="239.3" x2="1899.6" y2="235.9" stroke="#000" stroke-width="1.8"/>
<line x1="1899.6" y1="593.8" x2="1899.6" y2="597.2" stroke="#000" stroke-width="1.8"/>
<line x1="1912.4" y1="239.3" x2="1912.4" y2="235.9" stroke="#000" stroke-width="1.8"/>
<line x1="1912.4" y1="593.8" x2="1912.4" y2="597.2" stroke="#000" stroke-width="1.8"/>
<line x1="1925.2" y1="239.3" x2="1925.2" y2="230.8" stroke="#000" stroke-width="2.8"/>
<line x1="1925.2" y1="593.8" x2="1925.2" y2="602.3" stroke="#000" stroke-width="2.8"/>
<line x1="1938.0" y1="239.3" x2="1938.0" y2="235.9" stroke="#000" stroke-width="1.8"/>
<line x1="1938.0" y1="593.8" x2="1938.0" y2="597.2" stroke="#000" stroke-width="1.8"/>
<line x1="1950.8" y1="239.3" x2="1950.8" y2="235.9" stroke="#000" stroke-width="1.8"/>
<line x1="1950.8" y1="593.8" x2="1950.8" y2="597.2" stroke="#000" stroke-width="1.8"/>
<line x1="1579.6" y1="581.6" x2="1571.1" y2="581.6" stroke="#000" stroke-width="2.8"/>
<line x1="1951.0" y1="581.6" x2="1959.5" y2="581.6" stroke="#000" stroke-width="2.8"/>
<line x1="1579.6" y1="568.7" x2="1576.2" y2="568.7" stroke="#000" stroke-width="1.8"/>
<line x1="1951.0" y1="568.7" x2="1954.4" y2="568.7" stroke="#000" stroke-width="1.8"/>
<line x1="1579.6" y1="555.7" x2="1576.2" y2="555.7" stroke="#000" stroke-width="1.8"/>
<line x1="1951.0" y1="555.7" x2="1954.4" y2="555.7" stroke="#000" stroke-width="1.8"/>
<line x1="1579.6" y1="542.7" x2="1571.1" y2="542.7" stroke="#000" stroke-width="2.8"/>
<line x1="1951.0" y1="542.7" x2="1959.5" y2="542.7" stroke="#000" stroke-width="2.8"/>
<line x1="1579.6" y1="529.6" x2="1576.2" y2="529.6" stroke="#000" stroke-width="1.8"/>
<line x1="1951.0" y1="529.6" x2="1954.4" y2="529.6" stroke="#000" stroke-width="1.8"/>
<line x1="1579.6" y1="516.5" x2="1576.2" y2="516.5" stroke="#000" stroke-width="1.8"/>
<line x1="1951.0" y1="516.5" x2="1954.4" y2="516.5" stroke="#000" stroke-width="1.8"/>
<line x1="1579.6" y1="503.3" x2="1571.1" y2="503.3" stroke="#000" stroke-width="2.8"/>
<line x1="1951.0" y1="503.3" x2="1959.5" y2="503.3" stroke="#000" stroke-width="2.8"/>
<line x1="1579.6" y1="490.1" x2="1576.2" y2="490.1" stroke="#000" stroke-width="1.8"/>
<line x1="1951.0" y1="490.1" x2="1954.4" y2="490.1" stroke="#000" stroke-width="1.8"/>
<line x1="1579.6" y1="476.8" x2="1576.2" y2="476.8" stroke="#000" stroke-width="1.8"/>
<line x1="1951.0" y1="476.8" x2="1954.4" y2="476.8" stroke="#000" stroke-width="1.8"/>
<line x1="1579.6" y1="463.4" x2="1571.1" y2="463.4" stroke="#000" stroke-width="2.8"/>
<line x1="1951.0" y1="463.4" x2="1959.5" y2="463.4" stroke="#000" stroke-width="2.8"/>
<line x1="1579.6" y1="449.9" x2="1576.2" y2="449.9" stroke="#000" stroke-width="1.8"/>
<line x1="1951.0" y1="449.9" x2="1954.4" y2="449.9" stroke="#000" stroke-width="1.8"/>
<line x1="1579.6" y1="436.4" x2="1576.2" y2="436.4" stroke="#000" stroke-width="1.8"/>
<line x1="1951.0" y1="436.4" x2="1954.4" y2="436.4" stroke="#000" stroke-width="1.8"/>
<line x1="1579.6" y1="422.8" x2="1571.1" y2="422.8" stroke="#000" stroke-width="2.8"/>
<line x1="1951.0" y1="422.8" x2="1959.5" y2="422.8" stroke="#000" stroke-width="2.8"/>
<line x1="1579.6" y1="409.1" x2="1576.2" y2="409.1" stroke="#000" stroke-width="1.8"/>
<line x1="1951.0" y1="409.1" x2="1954.4" y2="409.1" stroke="#000" stroke-width="1.8"/>
<line x1="1579.6" y1="395.3" x2="1576.2" y2="395.3" stroke="#000" stroke-width="1.8"/>
<line x1="1951.0" y1="395.3" x2="1954.4" y2="395.3" stroke="#000" stroke-width="1.8"/>
<line x1="1579.6" y1="381.4" x2="1571.1" y2="381.4" stroke="#000" stroke-width="2.8"/>
<line x1="1951.0" y1="381.4" x2="1959.5" y2="381.4" stroke="#000" stroke-width="2.8"/>
<line x1="1579.6" y1="367.3" x2="1576.2" y2="367.3" stroke="#000" stroke-width="1.8"/>
<line x1="1951.0" y1="367.3" x2="1954.4" y2="367.3" stroke="#000" stroke-width="1.8"/>
<line x1="1579.6" y1="353.2" x2="1576.2" y2="353.2" stroke="#000" stroke-width="1.8"/>
<line x1="1951.0" y1="353.2" x2="1954.4" y2="353.2" stroke="#000" stroke-width="1.8"/>
<line x1="1579.6" y1="339.0" x2="1571.1" y2="339.0" stroke="#000" stroke-width="2.8"/>
<line x1="1951.0" y1="339.0" x2="1959.5" y2="339.0" stroke="#000" stroke-width="2.8"/>
<line x1="1579.6" y1="324.6" x2="1576.2" y2="324.6" stroke="#000" stroke-width="1.8"/>
<line x1="1951.0" y1="324.6" x2="1954.4" y2="324.6" stroke="#000" stroke-width="1.8"/>
<line x1="1579.6" y1="310.1" x2="1576.2" y2="310.1" stroke="#000" stroke-width="1.8"/>
<line x1="1951.0" y1="310.1" x2="1954.4" y2="310.1" stroke="#000" stroke-width="1.8"/>
<line x1="1579.6" y1="295.4" x2="1571.1" y2="295.4" stroke="#000" stroke-width="2.8"/>
<line x1="1951.0" y1="295.4" x2="1959.5" y2="295.4" stroke="#000" stroke-width="2.8"/>
<line x1="1579.6" y1="280.6" x2="1576.2" y2="280.6" stroke="#000" stroke-width="1.8"/>
<line x1="1951.0" y1="280.6" x2="1954.4" y2="280.6" stroke="#000" stroke-width="1.8"/>
<line x1="1579.6" y1="265.6" x2="1576.2" y2="265.6" stroke="#000" stroke-width="1.8"/>
<line x1="1951.0" y1="265.6" x2="1954.4" y2="265.6" stroke="#000" stroke-width="1.8"/>
<line x1="1579.6" y1="250.5" x2="1571.1" y2="250.5" stroke="#000" stroke-width="2.8"/>
<line x1="1951.0" y1="250.5" x2="1959.5" y2="250.5" stroke="#000" stroke-width="2.8"/>
<text x="1522.3" y="590.6" font-size="23.76" textLength="40.7" lengthAdjust="spacingAndGlyphs">9°N</text>
<text x="1508.6" y="551.7" font-size="23.76" textLength="54.4" lengthAdjust="spacingAndGlyphs">12°N</text>
<text x="1508.6" y="512.3" font-size="23.76" textLength="54.4" lengthAdjust="spacingAndGlyphs">15°N</text>
<text x="1508.6" y="472.4" font-size="23.76" textLength="54.4" lengthAdjust="spacingAndGlyphs">18°N</text>
<text x="1508.6" y="431.8" font-size="23.76" textLength="54.4" lengthAdjust="spacingAndGlyphs">21°N</text>
<text x="1508.6" y="390.4" font-size="23.76" textLength="54.4" lengthAdjust="spacingAndGlyphs">24°N</text>
<text x="1508.6" y="348.0" font-size="23.76" textLength="54.4" lengthAdjust="spacingAndGlyphs">27°N</text>
<text x="1508.6" y="304.4" font-size="23.76" textLength="54.4" lengthAdjust="spacingAndGlyphs">30°N</text>
<text x="1508.6" y="259.5" font-size="23.76" textLength="54.4" lengthAdjust="spacingAndGlyphs">33°N</text>
<text x="1542.9" y="627.3" font-size="23.76" textLength="73.4" lengthAdjust="spacingAndGlyphs">126°W</text>
<text x="1581.3" y="627.3" font-size="23.76" textLength="73.4" lengthAdjust="spacingAndGlyphs">123°W</text>
<text x="1619.7" y="627.3" font-size="23.76" textLength="73.4" lengthAdjust="spacingAndGlyphs">120°W</text>
<text x="1658.1" y="627.3" font-size="23.76" textLength="73.4" lengthAdjust="spacingAndGlyphs">117°W</text>
<text x="1696.5" y="627.3" font-size="23.76" textLength="73.4" lengthAdjust="spacingAndGlyphs">114°W</text>
<text x="1734.9" y="627.3" font-size="23.76" textLength="73.4" lengthAdjust="spacingAndGlyphs">111°W</text>
<text x="1773.3" y="627.3" font-size="23.76" textLength="73.4" lengthAdjust="spacingAndGlyphs">108°W</text>
<text x="1811.7" y="627.3" font-size="23.76" textLength="73.4" lengthAdjust="spacingAndGlyphs">105°W</text>
<text x="1850.1" y="627.3" font-size="23.76" textLength="73.4" lengthAdjust="spacingAndGlyphs">102°W</text>
<text x="1895.4" y="627.3" font-size="23.76" textLength="59.6" lengthAdjust="spacingAndGlyphs">99°W</text>
<rect x="1683.3" y="654.2" width="164.3" height="143.0" rx="4" ry="4" fill="#fff" fill-opacity="0.8" stroke="#cccccc" stroke-width="1.2"/>
<line x1="1690.9" y1="673.4" x2="1738.8" y2="673.4" stroke="#0000ff" stroke-width="2.3"/>
<circle cx="1714.4" cy="673.4" r="6.0" fill="#0000ff"/>
<text x="1755.6" y="681.7" font-size="24.09" textLength="67.1" lengthAdjust="spacingAndGlyphs">sg652</text>
<line x1="1690.9" y1="707.6" x2="1738.8" y2="707.6" stroke="#ff0000" stroke-width="2.3"/>
<circle cx="1714.4" cy="707.6" r="6.0" fill="#ff0000"/>
<text x="1755.6" y="715.9" font-size="24.09" textLength="70.4" lengthAdjust="spacingAndGlyphs">RTOFS</text>
<line x1="1690.9" y1="741.8" x2="1738.8" y2="741.8" stroke="#008000" stroke-width="2.3"/>
<circle cx="1714.4" cy="741.8" r="6.0" fill="#008000"/>
<text x="1755.6" y="750.1" font-size="24.09" textLength="56.2" lengthAdjust="spacingAndGlyphs">ESPC</text>
<line x1="1690.9" y1="776.0" x2="1738.8" y2="776.0" stroke="#ff00ff" stroke-width="2.3"/>
<circle cx="1714.4" cy="776.0" r="6.0" fill="#ff00ff"/>
<text x="1755.6" y="784.3" font-size="24.09" textLength="80.8" lengthAdjust="spacingAndGlyphs">CMEMS</text>
<text x="343.3" y="918.2" font-size="19.03" font-style="italic" textLength="55.3" lengthAdjust="spacingAndGlyphs">Ocean</text>
<text x="404.1" y="918.2" font-size="19.03" font-style="italic" textLength="41.0" lengthAdjust="spacingAndGlyphs">Heat</text>
<text x="450.7" y="918.2" font-size="19.03" font-style="italic" textLength="68.8" lengthAdjust="spacingAndGlyphs">Content</text>
<text x="525.0" y="918.2" font-size="19.03" font-style="italic" textLength="86.3" lengthAdjust="spacingAndGlyphs">(kJ/cm^2)</text>
<text x="616.8" y="918.2" font-size="19.03" font-style="italic" textLength="6.2" lengthAdjust="spacingAndGlyphs">-</text>
<text x="628.5" y="918.2" font-size="19.03" font-style="italic" textLength="57.6" lengthAdjust="spacingAndGlyphs">Glider:</text>
<text x="691.6" y="918.2" font-size="19.03" font-style="italic" textLength="77.0" lengthAdjust="spacingAndGlyphs">45.4486,</text>
<text x="779.7" y="918.2" font-size="19.03" font-style="italic" textLength="63.0" lengthAdjust="spacingAndGlyphs">RTOFS:</text>
<text x="848.1" y="918.2" font-size="19.03" font-style="italic" textLength="77.0" lengthAdjust="spacingAndGlyphs">46.5724,</text>
<text x="936.2" y="918.2" font-size="19.03" font-style="italic" textLength="50.3" lengthAdjust="spacingAndGlyphs">ESPC:</text>
<text x="991.9" y="918.2" font-size="19.03" font-style="italic" textLength="77.0" lengthAdjust="spacingAndGlyphs">47.2597,</text>
<text x="1080.0" y="918.2" font-size="19.03" font-style="italic" textLength="69.7" lengthAdjust="spacingAndGlyphs">CMEMS:</text>
<text x="1155.1" y="918.2" font-size="19.03" font-style="italic" textLength="77.0" lengthAdjust="spacingAndGlyphs">34.4509,</text>
</svg></body></html>
